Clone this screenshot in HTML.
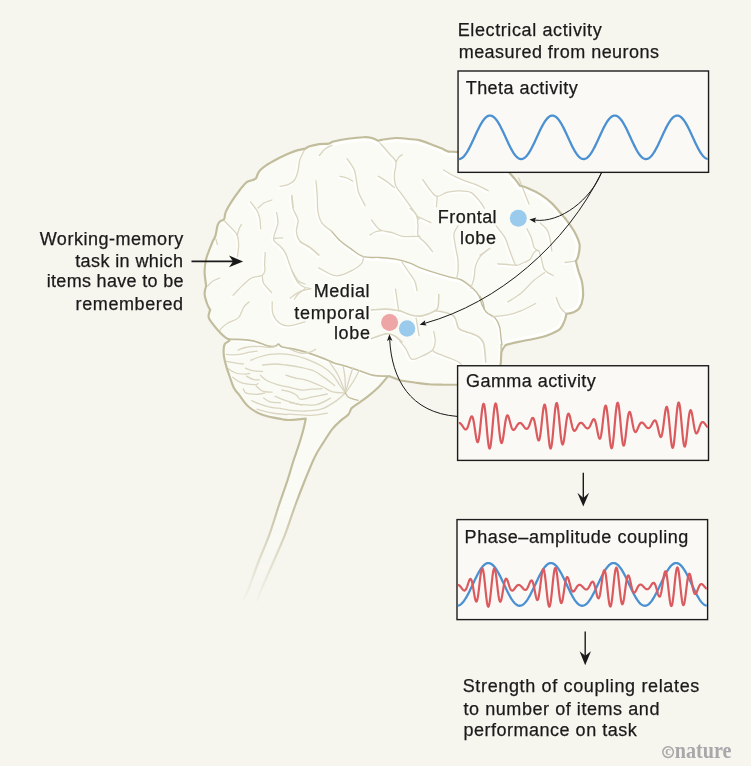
<!DOCTYPE html>
<html><head><meta charset="utf-8"><style>
html,body{margin:0;padding:0;background:#f6f5ee;}
#c{position:relative;width:751px;height:766px;overflow:hidden;background:#f6f5ee;}
svg{position:absolute;left:0;top:0;will-change:transform;}
text{font-family:"Liberation Sans",sans-serif;fill:#1a1a1a;font-size:18px;stroke:#1a1a1a;stroke-width:0.25px;}
</style></head><body><div id="c">
<svg width="751" height="766" viewBox="0 0 751 766">
<defs><linearGradient id="fade" x1="0" y1="0" x2="0" y2="1" gradientUnits="objectBoundingBox"><stop offset="0" stop-color="#fff"/><stop offset="1" stop-color="#fff"/></linearGradient><linearGradient id="fg" gradientUnits="userSpaceOnUse" x1="0" y1="495" x2="0" y2="603"><stop offset="0" stop-color="#fff" stop-opacity="1"/><stop offset="1" stop-color="#fff" stop-opacity="0"/></linearGradient><mask id="m" maskUnits="userSpaceOnUse" x="0" y="0" width="751" height="766"><rect x="0" y="0" width="751" height="495" fill="#fff"/><rect x="0" y="495" width="751" height="271" fill="url(#fg)"/></mask></defs>
<g mask="url(#m)">
<clipPath id="cp"><path d="M226.30,338.20 C226.30,338.20 222.03,334.62 219.90,332.40 C217.77,330.18 215.37,327.38 213.50,324.90 C211.63,322.42 209.35,319.73 208.70,317.50 C208.05,315.27 209.35,312.77 209.60,311.50 C209.85,310.23 210.20,309.90 210.20,309.90 C210.20,309.90 207.93,306.17 207.00,303.50 C206.07,300.83 204.73,296.83 204.60,293.90 C204.47,290.97 206.20,285.90 206.20,285.90 C206.20,285.90 204.60,276.02 204.60,271.50 C204.60,266.98 205.33,262.60 206.20,258.80 C207.07,255.00 208.67,251.72 209.80,248.70 C210.93,245.68 212.07,242.83 213.00,240.70 C213.93,238.57 214.60,238.57 215.40,235.90 C216.20,233.23 216.87,227.23 217.80,224.70 C218.73,222.17 221.00,220.70 221.00,220.70 C221.00,220.70 223.40,220.57 224.20,219.10 C225.00,217.63 224.47,214.97 225.80,211.90 C227.13,208.83 229.80,204.43 232.20,200.70 C234.60,196.97 237.82,192.57 240.20,189.50 C242.58,186.43 244.38,183.88 246.50,182.30 C248.62,180.72 251.30,180.65 252.90,180.00 C254.50,179.35 256.10,178.40 256.10,178.40 C256.10,178.40 257.70,173.33 259.30,171.20 C260.90,169.07 263.03,167.47 265.70,165.60 C268.37,163.73 271.57,161.97 275.30,160.00 C279.03,158.03 284.48,155.40 288.10,153.80 C291.72,152.20 294.15,151.27 297.00,150.40 C299.85,149.53 305.20,148.60 305.20,148.60 C305.20,148.60 307.27,147.05 309.60,146.30 C311.93,145.55 316.00,144.55 319.20,144.10 C322.40,143.65 326.40,144.03 328.80,143.60 C331.20,143.17 330.42,142.30 333.60,141.50 C336.78,140.70 342.85,139.52 347.90,138.80 C352.95,138.08 359.90,137.33 363.90,137.20 C367.90,137.07 369.50,137.38 371.90,138.00 C374.30,138.62 378.30,140.90 378.30,140.90 C378.30,140.90 378.57,140.38 381.50,139.90 C384.43,139.42 390.83,138.10 395.90,138.00 C400.97,137.90 407.88,138.90 411.90,139.30 C415.92,139.70 416.55,139.47 420.00,140.40 C423.45,141.33 428.95,143.53 432.60,144.90 C436.25,146.27 439.25,147.48 441.90,148.60 C444.55,149.72 446.17,151.05 448.50,151.60 C450.83,152.15 451.48,151.33 455.90,151.90 C460.32,152.47 468.48,153.15 475.00,155.00 C481.52,156.85 489.23,160.00 495.00,163.00 C500.77,166.00 509.60,173.00 509.60,173.00 C509.60,173.00 513.47,177.27 515.20,179.40 C516.93,181.53 520.00,185.80 520.00,185.80 C520.00,185.80 524.55,186.73 528.00,188.20 C531.45,189.67 536.72,192.07 540.70,194.60 C544.68,197.13 548.17,199.82 551.90,203.40 C555.63,206.98 560.68,213.33 563.10,216.10 C565.52,218.87 564.38,217.15 566.40,220.00 C568.42,222.85 573.00,229.05 575.20,233.20 C577.40,237.35 579.12,241.00 579.60,244.90 C580.08,248.80 578.72,253.92 578.10,256.60 C577.48,259.28 575.90,261.00 575.90,261.00 C575.90,261.00 577.45,267.63 578.50,271.30 C579.55,274.97 581.47,278.62 582.20,283.00 C582.93,287.38 583.33,293.45 582.90,297.60 C582.47,301.75 581.13,305.45 579.60,307.90 C578.07,310.35 575.90,311.33 573.70,312.30 C571.50,313.27 566.40,313.70 566.40,313.70 C566.40,313.70 566.08,317.03 565.00,319.60 C563.92,322.17 562.88,326.45 559.90,329.10 C556.92,331.75 551.37,333.90 547.10,335.50 C542.83,337.10 539.08,337.63 534.30,338.70 C529.52,339.77 523.18,340.83 518.40,341.90 C513.62,342.97 505.60,345.10 505.60,345.10 C505.60,345.10 502.35,348.68 501.50,352.00 C500.65,355.32 501.42,360.83 500.50,365.00 C499.58,369.17 499.42,373.75 496.00,377.00 C492.58,380.25 486.48,383.22 480.00,384.50 C473.52,385.78 463.12,384.67 457.10,384.70 C451.08,384.73 448.53,384.77 443.90,384.70 C439.27,384.63 434.18,384.67 429.30,384.30 C424.42,383.93 419.48,383.17 414.60,382.50 C409.72,381.83 404.07,381.30 400.00,380.30 C395.93,379.30 392.30,377.08 390.20,376.50 C388.10,375.92 387.40,376.80 387.40,376.80 C387.40,376.80 381.20,384.50 377.90,387.80 C374.60,391.10 371.02,393.92 367.60,396.60 C364.18,399.28 360.08,401.95 357.40,403.90 C354.72,405.85 352.97,406.58 351.50,408.30 C350.03,410.02 350.30,412.23 348.60,414.20 C346.90,416.17 343.98,417.67 341.30,420.10 C338.62,422.53 335.43,425.15 332.50,428.80 C329.57,432.45 326.63,437.35 323.70,442.00 C320.77,446.65 318.02,450.37 314.90,456.70 C311.78,463.03 308.32,471.78 305.00,480.00 C301.68,488.22 298.35,496.85 295.00,506.00 C291.65,515.15 288.73,525.07 284.90,534.90 C281.07,544.73 275.97,555.87 272.00,565.00 C268.03,574.13 263.77,583.53 261.10,589.70 C258.43,595.87 259.02,599.95 256.00,602.00 C252.98,604.05 244.28,604.05 243.00,602.00 C241.72,599.95 245.80,596.20 248.30,589.70 C250.80,583.20 254.50,572.13 258.00,563.00 C261.50,553.87 265.80,544.57 269.30,534.90 C272.80,525.23 275.95,514.15 279.00,505.00 C282.05,495.85 285.28,487.08 287.60,480.00 C289.92,472.92 291.03,468.33 292.90,462.50 C294.77,456.67 297.08,450.37 298.80,445.00 C300.52,439.63 302.03,434.70 303.20,430.30 C304.37,425.90 305.80,418.60 305.80,418.60 C305.80,418.60 293.95,419.90 290.00,420.00 C286.05,420.10 286.60,420.02 282.10,419.20 C277.60,418.38 268.58,417.18 263.00,415.10 C257.42,413.02 252.60,410.10 248.60,406.70 C244.60,403.30 241.47,397.87 239.00,394.70 C236.53,391.53 235.38,390.82 233.80,387.70 C232.22,384.58 230.75,379.55 229.50,376.00 C228.25,372.45 227.18,369.42 226.30,366.40 C225.42,363.38 224.65,360.55 224.20,357.90 C223.75,355.25 223.52,352.80 223.60,350.50 C223.68,348.20 223.72,345.78 224.70,344.10 C225.68,342.42 229.23,341.38 229.50,340.40 C229.77,339.42 226.30,338.20 226.30,338.20 Z"/></clipPath>
<path d="M226.30,338.20 C226.30,338.20 222.03,334.62 219.90,332.40 C217.77,330.18 215.37,327.38 213.50,324.90 C211.63,322.42 209.35,319.73 208.70,317.50 C208.05,315.27 209.35,312.77 209.60,311.50 C209.85,310.23 210.20,309.90 210.20,309.90 C210.20,309.90 207.93,306.17 207.00,303.50 C206.07,300.83 204.73,296.83 204.60,293.90 C204.47,290.97 206.20,285.90 206.20,285.90 C206.20,285.90 204.60,276.02 204.60,271.50 C204.60,266.98 205.33,262.60 206.20,258.80 C207.07,255.00 208.67,251.72 209.80,248.70 C210.93,245.68 212.07,242.83 213.00,240.70 C213.93,238.57 214.60,238.57 215.40,235.90 C216.20,233.23 216.87,227.23 217.80,224.70 C218.73,222.17 221.00,220.70 221.00,220.70 C221.00,220.70 223.40,220.57 224.20,219.10 C225.00,217.63 224.47,214.97 225.80,211.90 C227.13,208.83 229.80,204.43 232.20,200.70 C234.60,196.97 237.82,192.57 240.20,189.50 C242.58,186.43 244.38,183.88 246.50,182.30 C248.62,180.72 251.30,180.65 252.90,180.00 C254.50,179.35 256.10,178.40 256.10,178.40 C256.10,178.40 257.70,173.33 259.30,171.20 C260.90,169.07 263.03,167.47 265.70,165.60 C268.37,163.73 271.57,161.97 275.30,160.00 C279.03,158.03 284.48,155.40 288.10,153.80 C291.72,152.20 294.15,151.27 297.00,150.40 C299.85,149.53 305.20,148.60 305.20,148.60 C305.20,148.60 307.27,147.05 309.60,146.30 C311.93,145.55 316.00,144.55 319.20,144.10 C322.40,143.65 326.40,144.03 328.80,143.60 C331.20,143.17 330.42,142.30 333.60,141.50 C336.78,140.70 342.85,139.52 347.90,138.80 C352.95,138.08 359.90,137.33 363.90,137.20 C367.90,137.07 369.50,137.38 371.90,138.00 C374.30,138.62 378.30,140.90 378.30,140.90 C378.30,140.90 378.57,140.38 381.50,139.90 C384.43,139.42 390.83,138.10 395.90,138.00 C400.97,137.90 407.88,138.90 411.90,139.30 C415.92,139.70 416.55,139.47 420.00,140.40 C423.45,141.33 428.95,143.53 432.60,144.90 C436.25,146.27 439.25,147.48 441.90,148.60 C444.55,149.72 446.17,151.05 448.50,151.60 C450.83,152.15 451.48,151.33 455.90,151.90 C460.32,152.47 468.48,153.15 475.00,155.00 C481.52,156.85 489.23,160.00 495.00,163.00 C500.77,166.00 509.60,173.00 509.60,173.00 C509.60,173.00 513.47,177.27 515.20,179.40 C516.93,181.53 520.00,185.80 520.00,185.80 C520.00,185.80 524.55,186.73 528.00,188.20 C531.45,189.67 536.72,192.07 540.70,194.60 C544.68,197.13 548.17,199.82 551.90,203.40 C555.63,206.98 560.68,213.33 563.10,216.10 C565.52,218.87 564.38,217.15 566.40,220.00 C568.42,222.85 573.00,229.05 575.20,233.20 C577.40,237.35 579.12,241.00 579.60,244.90 C580.08,248.80 578.72,253.92 578.10,256.60 C577.48,259.28 575.90,261.00 575.90,261.00 C575.90,261.00 577.45,267.63 578.50,271.30 C579.55,274.97 581.47,278.62 582.20,283.00 C582.93,287.38 583.33,293.45 582.90,297.60 C582.47,301.75 581.13,305.45 579.60,307.90 C578.07,310.35 575.90,311.33 573.70,312.30 C571.50,313.27 566.40,313.70 566.40,313.70 C566.40,313.70 566.08,317.03 565.00,319.60 C563.92,322.17 562.88,326.45 559.90,329.10 C556.92,331.75 551.37,333.90 547.10,335.50 C542.83,337.10 539.08,337.63 534.30,338.70 C529.52,339.77 523.18,340.83 518.40,341.90 C513.62,342.97 505.60,345.10 505.60,345.10 C505.60,345.10 502.35,348.68 501.50,352.00 C500.65,355.32 501.42,360.83 500.50,365.00 C499.58,369.17 499.42,373.75 496.00,377.00 C492.58,380.25 486.48,383.22 480.00,384.50 C473.52,385.78 463.12,384.67 457.10,384.70 C451.08,384.73 448.53,384.77 443.90,384.70 C439.27,384.63 434.18,384.67 429.30,384.30 C424.42,383.93 419.48,383.17 414.60,382.50 C409.72,381.83 404.07,381.30 400.00,380.30 C395.93,379.30 392.30,377.08 390.20,376.50 C388.10,375.92 387.40,376.80 387.40,376.80 C387.40,376.80 381.20,384.50 377.90,387.80 C374.60,391.10 371.02,393.92 367.60,396.60 C364.18,399.28 360.08,401.95 357.40,403.90 C354.72,405.85 352.97,406.58 351.50,408.30 C350.03,410.02 350.30,412.23 348.60,414.20 C346.90,416.17 343.98,417.67 341.30,420.10 C338.62,422.53 335.43,425.15 332.50,428.80 C329.57,432.45 326.63,437.35 323.70,442.00 C320.77,446.65 318.02,450.37 314.90,456.70 C311.78,463.03 308.32,471.78 305.00,480.00 C301.68,488.22 298.35,496.85 295.00,506.00 C291.65,515.15 288.73,525.07 284.90,534.90 C281.07,544.73 275.97,555.87 272.00,565.00 C268.03,574.13 263.77,583.53 261.10,589.70 C258.43,595.87 259.02,599.95 256.00,602.00 C252.98,604.05 244.28,604.05 243.00,602.00 C241.72,599.95 245.80,596.20 248.30,589.70 C250.80,583.20 254.50,572.13 258.00,563.00 C261.50,553.87 265.80,544.57 269.30,534.90 C272.80,525.23 275.95,514.15 279.00,505.00 C282.05,495.85 285.28,487.08 287.60,480.00 C289.92,472.92 291.03,468.33 292.90,462.50 C294.77,456.67 297.08,450.37 298.80,445.00 C300.52,439.63 302.03,434.70 303.20,430.30 C304.37,425.90 305.80,418.60 305.80,418.60 C305.80,418.60 293.95,419.90 290.00,420.00 C286.05,420.10 286.60,420.02 282.10,419.20 C277.60,418.38 268.58,417.18 263.00,415.10 C257.42,413.02 252.60,410.10 248.60,406.70 C244.60,403.30 241.47,397.87 239.00,394.70 C236.53,391.53 235.38,390.82 233.80,387.70 C232.22,384.58 230.75,379.55 229.50,376.00 C228.25,372.45 227.18,369.42 226.30,366.40 C225.42,363.38 224.65,360.55 224.20,357.90 C223.75,355.25 223.52,352.80 223.60,350.50 C223.68,348.20 223.72,345.78 224.70,344.10 C225.68,342.42 229.23,341.38 229.50,340.40 C229.77,339.42 226.30,338.20 226.30,338.20 Z" fill="#fbfbf6" stroke="none"/>
<g clip-path="url(#cp)"><path d="M319.20,144.10 C320.80,144.02 326.40,144.03 328.80,143.60 C331.20,143.17 330.42,142.30 333.60,141.50 C336.78,140.70 342.85,139.52 347.90,138.80 C352.95,138.08 359.90,137.33 363.90,137.20 C367.90,137.07 369.50,137.38 371.90,138.00 C374.30,138.62 378.30,140.90 378.30,140.90 C378.30,140.90 378.57,140.38 381.50,139.90 C384.43,139.42 390.83,138.10 395.90,138.00 C400.97,137.90 407.88,138.90 411.90,139.30 C415.92,139.70 416.55,139.47 420.00,140.40 C423.45,141.33 428.95,143.53 432.60,144.90 C436.25,146.27 439.25,147.48 441.90,148.60 C444.55,149.72 446.17,151.05 448.50,151.60 C450.83,152.15 451.48,151.33 455.90,151.90 C460.32,152.47 468.48,153.15 475.00,155.00 C481.52,156.85 489.23,160.00 495.00,163.00 C500.77,166.00 509.60,173.00 509.60,173.00 C509.60,173.00 513.47,177.27 515.20,179.40 C516.93,181.53 520.00,185.80 520.00,185.80 C520.00,185.80 524.55,186.73 528.00,188.20 C531.45,189.67 536.72,192.07 540.70,194.60 C544.68,197.13 548.17,199.82 551.90,203.40 C555.63,206.98 560.68,213.33 563.10,216.10 C565.52,218.87 564.38,217.15 566.40,220.00 C568.42,222.85 573.00,229.05 575.20,233.20 C577.40,237.35 579.12,241.00 579.60,244.90 C580.08,248.80 578.72,253.92 578.10,256.60 C577.48,259.28 575.90,261.00 575.90,261.00 C575.90,261.00 577.45,267.63 578.50,271.30 C579.55,274.97 581.47,278.62 582.20,283.00 C582.93,287.38 583.33,293.45 582.90,297.60 C582.47,301.75 581.13,305.45 579.60,307.90 C578.07,310.35 575.90,311.33 573.70,312.30 C571.50,313.27 566.40,313.70 566.40,313.70 C566.40,313.70 566.08,317.03 565.00,319.60 C563.92,322.17 562.88,326.45 559.90,329.10 C556.92,331.75 551.37,333.90 547.10,335.50 C542.83,337.10 539.08,337.63 534.30,338.70 C529.52,339.77 523.18,340.83 518.40,341.90 C513.62,342.97 505.60,345.10 505.60,345.10" fill="none" stroke="#ffffff" stroke-width="8" stroke-linejoin="round" opacity="0.9"/></g>
<path d="M331.50,231.10 C332.85,232.62 336.40,237.27 339.60,240.20 C342.80,243.13 346.72,245.95 350.70,248.70 C354.68,251.45 358.70,255.23 363.50,256.70 C368.30,258.17 374.17,257.10 379.50,257.50 C384.83,257.90 390.42,258.17 395.50,259.10 C400.58,260.03 406.27,261.82 410.00,263.10 C413.73,264.38 413.92,265.27 417.90,266.80 C421.88,268.33 428.55,270.58 433.90,272.30 C439.25,274.02 445.40,275.82 450.00,277.10 C454.60,278.38 457.63,278.05 461.50,280.00 C465.37,281.95 470.27,286.12 473.20,288.80 C476.13,291.48 477.63,293.42 479.10,296.10 C480.57,298.78 480.78,302.22 482.00,304.90 C483.22,307.58 484.20,310.00 486.40,312.20 C488.60,314.40 493.00,315.65 495.20,318.10 C497.40,320.55 498.62,323.48 499.60,326.90 C500.58,330.32 500.70,335.58 501.10,338.60 C501.50,341.62 501.85,343.93 502.00,345.00" transform="translate(0.6,2.4)" fill="none" stroke="#ffffff" stroke-width="2.6" stroke-linecap="round"/>
<g clip-path="url(#cp)" transform="translate(-1.3,1.3)" fill="none" stroke="#ffffff" stroke-width="2.2" stroke-linecap="round" stroke-linejoin="round" opacity="0.9">
<path d="M226.30,338.20 C226.30,338.20 228.93,339.07 231.60,339.30 C234.27,339.53 238.75,339.33 242.30,339.60 C245.85,339.87 249.72,340.25 252.90,340.90 C256.08,341.55 258.73,342.62 261.40,343.50 C264.07,344.38 266.58,345.75 268.90,346.20 C271.22,346.65 273.70,346.55 275.30,346.20 C276.90,345.85 277.32,343.97 278.50,344.10 C279.68,344.23 279.27,346.05 282.40,347.00 C285.53,347.95 292.65,348.70 297.30,349.80 C301.95,350.90 305.65,352.05 310.30,353.60 C314.95,355.15 321.25,357.53 325.20,359.10 C329.15,360.67 330.70,361.85 334.00,363.00 C337.30,364.15 340.62,364.67 345.00,366.00 C349.38,367.33 355.55,369.43 360.30,371.00 C365.05,372.57 369.10,374.55 373.50,375.40 C377.90,376.25 383.92,375.92 386.70,376.10 C389.48,376.28 389.62,376.43 390.20,376.50"/>
<path d="M331.50,231.10 C332.85,232.62 336.40,237.27 339.60,240.20 C342.80,243.13 346.72,245.95 350.70,248.70 C354.68,251.45 358.70,255.23 363.50,256.70 C368.30,258.17 374.17,257.10 379.50,257.50 C384.83,257.90 390.42,258.17 395.50,259.10 C400.58,260.03 406.27,261.82 410.00,263.10 C413.73,264.38 413.92,265.27 417.90,266.80 C421.88,268.33 428.55,270.58 433.90,272.30 C439.25,274.02 445.40,275.82 450.00,277.10 C454.60,278.38 457.63,278.05 461.50,280.00 C465.37,281.95 470.27,286.12 473.20,288.80 C476.13,291.48 477.63,293.42 479.10,296.10 C480.57,298.78 480.78,302.22 482.00,304.90 C483.22,307.58 484.20,310.00 486.40,312.20 C488.60,314.40 493.00,315.65 495.20,318.10 C497.40,320.55 498.62,323.48 499.60,326.90 C500.58,330.32 500.70,335.58 501.10,338.60 C501.50,341.62 501.85,343.93 502.00,345.00"/>
<path d="M316.00,181.00 C316.20,183.50 316.87,190.83 317.20,196.00 C317.53,201.17 317.20,207.48 318.00,212.00 C318.80,216.52 319.75,219.92 322.00,223.10 C324.25,226.28 329.92,229.77 331.50,231.10"/>
<path d="M501.10,344.50 C501.10,346.45 501.23,352.62 501.10,356.20 C500.97,359.78 500.43,364.37 500.30,366.00"/>
<path d="M480.00,296.20 C480.48,297.17 482.17,299.80 482.90,302.00 C483.63,304.20 484.15,308.17 484.40,309.40"/>
<path d="M319.20,155.60 C320.17,154.50 322.87,150.73 325.00,149.00 C327.13,147.27 330.83,145.83 332.00,145.20"/>
<path d="M347.10,158.80 C348.30,160.67 352.70,166.02 354.30,170.00 C355.90,173.98 355.97,178.90 356.70,182.70 C357.43,186.50 357.30,188.98 358.70,192.80 C360.10,196.62 364.03,203.47 365.10,205.60"/>
<path d="M340.00,176.30 C341.17,176.58 344.88,177.20 347.00,178.00 C349.12,178.80 351.75,180.58 352.70,181.10"/>
<path d="M379.90,142.80 C381.50,144.67 386.83,150.80 389.50,154.00 C392.17,157.20 395.10,158.55 395.90,162.00 C396.70,165.45 394.30,170.72 394.30,174.70 C394.30,178.68 394.30,182.17 395.90,185.90 C397.50,189.63 400.70,192.57 403.90,197.10 C407.10,201.63 412.58,209.37 415.10,213.10 C417.62,216.83 418.35,218.43 419.00,219.50"/>
<path d="M395.90,162.00 C396.42,161.17 397.93,158.20 399.00,157.00 C400.07,155.80 401.75,155.17 402.30,154.80"/>
<path d="M378.30,176.30 C379.58,177.08 383.33,179.13 386.00,181.00 C388.67,182.87 392.92,186.42 394.30,187.50"/>
<path d="M371.50,220.00 C372.83,221.58 376.03,227.38 379.50,229.50 C382.97,231.62 388.50,231.57 392.30,232.70 C396.10,233.83 397.68,235.70 402.30,236.30 C406.92,236.90 417.05,236.30 420.00,236.30"/>
<path d="M369.90,235.10 C370.75,234.58 373.07,232.73 375.00,232.00 C376.93,231.27 380.42,230.92 381.50,230.70"/>
<path d="M300.00,241.90 C301.87,242.95 308.07,246.00 311.20,248.20 C314.33,250.40 317.53,253.95 318.80,255.10"/>
<path d="M443.60,170.00 C445.45,171.07 450.98,174.53 454.70,176.40 C458.42,178.27 462.17,179.73 465.90,181.20 C469.63,182.67 473.37,183.60 477.10,185.20 C480.83,186.80 486.43,189.87 488.30,190.80"/>
<path d="M422.80,179.60 C424.13,181.47 428.40,188.00 430.80,190.80 C433.20,193.60 434.53,196.13 437.20,196.40 C439.87,196.67 443.35,193.33 446.80,192.40 C450.25,191.47 453.92,190.80 457.90,190.80 C461.88,190.80 466.97,190.53 470.70,192.40 C474.43,194.27 478.03,199.33 480.30,202.00 C482.57,204.67 483.63,207.33 484.30,208.40"/>
<path d="M437.20,196.40 C437.07,198.13 436.53,205.07 436.40,206.80"/>
<path d="M410.00,208.40 C411.07,209.45 415.07,211.78 416.40,214.70 C417.73,217.62 417.73,222.43 418.00,225.90 C418.27,229.37 416.67,232.57 418.00,235.50 C419.33,238.43 423.60,240.83 426.00,243.50 C428.40,246.17 431.33,250.17 432.40,251.50"/>
<path d="M416.40,216.00 C417.50,216.50 420.60,217.88 423.00,219.00 C425.40,220.12 429.50,222.08 430.80,222.70"/>
<path d="M457.90,225.90 C457.23,227.23 454.30,230.43 453.90,233.90 C453.50,237.37 454.83,242.43 455.50,246.70 C456.17,250.97 457.50,255.23 457.90,259.50 C458.30,263.77 458.17,269.10 457.90,272.30 C457.63,275.50 456.57,277.63 456.30,278.70"/>
<path d="M489.90,248.30 C488.30,249.63 482.70,253.37 480.30,256.30 C477.90,259.23 476.57,262.17 475.50,265.90 C474.43,269.63 474.70,274.98 473.90,278.70 C473.10,282.42 471.23,286.62 470.70,288.20"/>
<path d="M496.10,225.90 C497.57,227.85 502.70,233.70 504.90,237.60 C507.10,241.50 507.83,245.40 509.30,249.30 C510.77,253.20 512.48,258.32 513.70,261.00 C514.92,263.68 514.90,265.15 516.60,265.40 C518.30,265.65 521.70,263.48 523.90,262.50 C526.10,261.52 528.08,261.22 529.80,259.50 C531.52,257.78 532.73,253.65 534.20,252.20 C535.67,250.75 537.38,249.58 538.60,250.80 C539.82,252.02 540.52,256.33 541.50,259.50 C542.48,262.67 542.55,267.10 544.50,269.80 C546.45,272.50 551.75,274.72 553.20,275.70"/>
<path d="M497.60,263.90 C499.17,264.00 503.83,264.25 507.00,264.50 C510.17,264.75 515.00,265.25 516.60,265.40"/>
<path d="M526.90,228.80 C527.63,230.27 530.08,234.43 531.30,237.60 C532.52,240.77 532.98,245.60 534.20,247.80 C535.42,250.00 537.87,250.30 538.60,250.80"/>
<path d="M540.10,222.90 C541.32,224.13 545.70,227.37 547.40,230.30 C549.10,233.23 549.57,237.08 550.30,240.50 C551.03,243.92 551.55,249.08 551.80,250.80"/>
<path d="M544.50,272.70 C542.53,274.17 536.62,278.08 532.70,281.50 C528.78,284.92 525.15,289.78 521.00,293.20 C516.85,296.62 510.00,300.53 507.80,302.00"/>
<path d="M535.70,303.50 C533.25,304.72 525.88,308.85 521.00,310.80 C516.12,312.75 511.28,314.22 506.40,315.20 C501.52,316.18 494.15,316.45 491.70,316.70"/>
<path d="M556.20,297.60 C556.93,299.32 558.90,305.22 560.60,307.90 C562.30,310.58 566.40,313.70 566.40,313.70"/>
<path d="M565.00,262.50 C566.82,262.25 575.90,261.00 575.90,261.00"/>
<path d="M480.00,255.20 C481.47,254.22 487.33,250.28 488.80,249.30"/>
<path d="M518.70,178.00 C519.75,180.67 523.28,189.67 525.00,194.00 C526.72,198.33 528.33,202.33 529.00,204.00"/>
<path d="M400.00,310.80 C401.95,311.53 408.03,314.35 411.70,315.20 C415.37,316.05 418.08,316.63 422.00,315.90 C425.92,315.17 432.52,312.38 435.20,310.80 C437.88,309.22 437.50,309.10 438.10,306.40 C438.70,303.70 438.68,296.57 438.80,294.60"/>
<path d="M435.20,310.80 C436.65,311.03 440.98,311.47 443.90,312.20 C446.82,312.93 450.73,313.98 452.70,315.20 C454.67,316.42 454.72,317.32 455.70,319.50 C456.68,321.68 457.13,326.33 458.60,328.30 C460.07,330.27 462.07,330.32 464.50,331.30 C466.93,332.28 470.77,333.23 473.20,334.20 C475.63,335.17 477.38,335.63 479.10,337.10 C480.82,338.57 482.52,340.32 483.50,343.00 C484.48,345.68 484.63,350.03 485.00,353.20 C485.37,356.37 485.58,360.53 485.70,362.00"/>
<path d="M416.10,318.10 C416.35,319.57 417.12,323.97 417.60,326.90 C418.08,329.83 418.77,334.23 419.00,335.70"/>
<path d="M400.00,341.50 C400.98,342.72 403.95,345.87 405.90,348.80 C407.85,351.73 409.02,357.87 411.70,359.10 C414.38,360.33 418.58,357.67 422.00,356.20 C425.42,354.73 430.00,352.75 432.20,350.30 C434.40,347.85 434.95,344.67 435.20,341.50 C435.45,338.33 433.95,333.00 433.70,331.30"/>
<path d="M432.20,350.30 C432.93,350.78 433.92,351.98 436.60,353.20 C439.28,354.42 444.63,356.13 448.30,357.60 C451.97,359.07 456.40,360.77 458.60,362.00 C460.80,363.23 461.02,364.50 461.50,365.00"/>
<path d="M371.50,309.90 C373.90,309.77 381.37,308.97 385.90,309.10 C390.43,309.23 396.35,310.42 398.70,310.70 C401.05,310.98 399.78,310.78 400.00,310.80"/>
<path d="M395.50,289.10 C395.75,290.92 396.47,296.40 397.00,300.00 C397.53,303.60 398.42,308.92 398.70,310.70"/>
<path d="M371.50,338.70 C373.90,337.90 382.17,334.43 385.90,333.90 C389.63,333.37 391.23,334.17 393.90,335.50 C396.57,336.83 400.57,340.83 401.90,341.90"/>
<path d="M401.90,262.00 C402.97,263.58 406.17,268.32 408.30,271.50 C410.43,274.68 413.23,277.90 414.70,281.10 C416.17,284.30 416.70,289.10 417.10,290.70"/>
<path d="M363.50,256.70 C363.23,257.77 363.50,260.97 361.90,263.10 C360.30,265.23 358.17,267.37 353.90,269.50 C349.63,271.63 342.15,276.17 336.30,275.90 C330.45,275.63 321.72,269.23 318.80,267.90"/>
<path d="M291.60,196.00 C291.87,198.13 292.13,204.80 293.20,208.80 C294.27,212.80 297.47,216.28 298.00,220.00 C298.53,223.72 296.13,227.65 296.40,231.10 C296.67,234.55 297.47,238.03 299.60,240.70 C301.73,243.37 306.00,244.70 309.20,247.10 C312.40,249.50 317.20,253.77 318.80,255.10"/>
<path d="M310.80,288.70 C308.93,289.23 303.07,290.32 299.60,291.90 C296.13,293.48 291.60,297.15 290.00,298.20"/>
<path d="M250.60,202.00 C251.72,203.55 255.75,208.42 257.30,211.30 C258.85,214.18 259.35,216.42 259.90,219.30 C260.45,222.18 260.48,227.05 260.60,228.60"/>
<path d="M258.00,208.00 C259.00,207.17 261.68,204.33 264.00,203.00 C266.32,201.67 270.58,200.50 271.90,200.00"/>
<path d="M224.00,220.60 C225.33,221.93 229.78,226.15 232.00,228.60 C234.22,231.05 236.20,232.42 237.30,235.30 C238.40,238.18 238.60,242.35 238.60,245.90 C238.60,249.45 237.52,254.82 237.30,256.60"/>
<path d="M237.30,235.30 C237.58,234.25 238.33,230.78 239.00,229.00 C239.67,227.22 240.92,225.33 241.30,224.60"/>
<path d="M276.60,212.60 C276.82,214.38 278.23,219.75 277.90,223.30 C277.57,226.85 275.27,231.02 274.60,233.90 C273.93,236.78 273.02,238.60 273.90,240.60 C274.78,242.60 278.02,243.90 279.90,245.90 C281.78,247.90 283.65,249.72 285.20,252.60 C286.75,255.48 287.87,259.65 289.20,263.20 C290.53,266.75 291.65,270.57 293.20,273.90 C294.75,277.23 296.70,281.02 298.50,283.20 C300.30,285.38 301.95,286.08 304.00,287.00 C306.05,287.92 309.67,288.42 310.80,288.70"/>
<path d="M274.50,238.50 C275.85,238.40 281.25,238.00 282.60,237.90"/>
<path d="M291.90,195.30 C292.12,197.30 292.98,205.30 293.20,207.30"/>
<path d="M265.20,252.60 C265.10,254.60 264.65,261.70 264.60,264.60 C264.55,267.50 265.28,268.22 264.90,270.00 C264.52,271.78 264.52,273.97 262.30,275.30 C260.08,276.63 254.72,276.45 251.60,278.00 C248.48,279.55 246.70,281.72 243.60,284.60 C240.50,287.48 234.77,293.52 233.00,295.30"/>
<path d="M262.30,275.30 C262.52,276.63 262.05,280.42 263.60,283.30 C265.15,286.18 270.27,291.05 271.60,292.60"/>
<path d="M216.00,239.30 C216.22,240.18 217.08,243.72 217.30,244.60"/>
<path d="M207.70,286.00 C208.58,285.17 211.02,282.33 213.00,281.00 C214.98,279.67 218.50,278.50 219.60,278.00"/>
<path d="M249.00,302.00 C248.10,302.88 245.38,304.65 243.60,307.30 C241.82,309.95 240.97,315.23 238.30,317.90 C235.63,320.57 230.48,321.52 227.60,323.30 C224.72,325.08 222.33,327.05 221.00,328.60 C219.67,330.15 219.83,331.93 219.60,332.60"/>
<path d="M272.20,302.00 C272.32,303.98 271.67,310.35 272.90,313.90 C274.13,317.45 276.93,321.30 279.60,323.30 C282.27,325.30 284.67,326.13 288.90,325.90 C293.13,325.67 302.32,322.57 305.00,321.90"/>
<path d="M291.60,270.00 C292.70,271.78 295.97,278.37 298.20,280.70 C300.43,283.03 303.87,283.45 305.00,284.00"/>
<path d="M294.20,299.30 C294.87,298.42 296.40,295.78 298.20,294.00 C300.00,292.22 303.87,289.50 305.00,288.60"/>
<path d="M304.50,149.60 C303.83,151.00 301.37,155.93 300.50,158.00 C299.63,160.07 299.77,159.67 299.30,162.00 C298.83,164.33 298.50,169.00 297.70,172.00 C296.90,175.00 296.10,177.88 294.50,180.00 C292.90,182.12 290.50,183.65 288.10,184.70 C285.70,185.75 281.43,186.03 280.10,186.30"/>
<path d="M226.30,354.40 C227.72,354.48 231.97,355.00 234.80,354.90 C237.63,354.80 240.82,354.25 243.30,353.80 C245.78,353.35 247.40,352.63 249.70,352.20 C252.00,351.77 255.87,351.37 257.10,351.20"/>
</g>
<path d="M226.30,338.20 C226.30,338.20 228.93,339.07 231.60,339.30 C234.27,339.53 238.75,339.33 242.30,339.60 C245.85,339.87 249.72,340.25 252.90,340.90 C256.08,341.55 258.73,342.62 261.40,343.50 C264.07,344.38 266.58,345.75 268.90,346.20 C271.22,346.65 273.70,346.55 275.30,346.20 C276.90,345.85 277.32,343.97 278.50,344.10 C279.68,344.23 279.27,346.05 282.40,347.00 C285.53,347.95 292.65,348.70 297.30,349.80 C301.95,350.90 305.65,352.05 310.30,353.60 C314.95,355.15 321.25,357.53 325.20,359.10 C329.15,360.67 330.70,361.85 334.00,363.00 C337.30,364.15 340.62,364.67 345.00,366.00 C349.38,367.33 355.55,369.43 360.30,371.00 C365.05,372.57 369.10,374.55 373.50,375.40 C377.90,376.25 383.92,375.92 386.70,376.10 C389.48,376.28 389.62,376.43 390.20,376.50" fill="none" stroke="#c1bd9c" stroke-width="1.7" stroke-linecap="round" stroke-linejoin="round"/>
<path d="M331.50,231.10 C332.85,232.62 336.40,237.27 339.60,240.20 C342.80,243.13 346.72,245.95 350.70,248.70 C354.68,251.45 358.70,255.23 363.50,256.70 C368.30,258.17 374.17,257.10 379.50,257.50 C384.83,257.90 390.42,258.17 395.50,259.10 C400.58,260.03 406.27,261.82 410.00,263.10 C413.73,264.38 413.92,265.27 417.90,266.80 C421.88,268.33 428.55,270.58 433.90,272.30 C439.25,274.02 445.40,275.82 450.00,277.10 C454.60,278.38 457.63,278.05 461.50,280.00 C465.37,281.95 470.27,286.12 473.20,288.80 C476.13,291.48 477.63,293.42 479.10,296.10 C480.57,298.78 480.78,302.22 482.00,304.90 C483.22,307.58 484.20,310.00 486.40,312.20 C488.60,314.40 493.00,315.65 495.20,318.10 C497.40,320.55 498.62,323.48 499.60,326.90 C500.58,330.32 500.70,335.58 501.10,338.60 C501.50,341.62 501.85,343.93 502.00,345.00" fill="none" stroke="#c1bd9c" stroke-width="1.4" stroke-linecap="round" stroke-linejoin="round"/>
<path d="M316.00,181.00 C316.20,183.50 316.87,190.83 317.20,196.00 C317.53,201.17 317.20,207.48 318.00,212.00 C318.80,216.52 319.75,219.92 322.00,223.10 C324.25,226.28 329.92,229.77 331.50,231.10" fill="none" stroke="#d9d5bf" stroke-width="1.3" stroke-linecap="round" stroke-linejoin="round"/>
<path d="M501.10,344.50 C501.10,346.45 501.23,352.62 501.10,356.20 C500.97,359.78 500.43,364.37 500.30,366.00" fill="none" stroke="#c1bd9c" stroke-width="1.3" stroke-linecap="round" stroke-linejoin="round"/>
<path d="M480.00,296.20 C480.48,297.17 482.17,299.80 482.90,302.00 C483.63,304.20 484.15,308.17 484.40,309.40" fill="none" stroke="#c1bd9c" stroke-width="1.3" stroke-linecap="round" stroke-linejoin="round"/>
<path d="M319.20,155.60 C320.17,154.50 322.87,150.73 325.00,149.00 C327.13,147.27 330.83,145.83 332.00,145.20" fill="none" stroke="#d9d5bf" stroke-width="1.3" stroke-linecap="round" stroke-linejoin="round"/>
<path d="M347.10,158.80 C348.30,160.67 352.70,166.02 354.30,170.00 C355.90,173.98 355.97,178.90 356.70,182.70 C357.43,186.50 357.30,188.98 358.70,192.80 C360.10,196.62 364.03,203.47 365.10,205.60" fill="none" stroke="#d9d5bf" stroke-width="1.3" stroke-linecap="round" stroke-linejoin="round"/>
<path d="M340.00,176.30 C341.17,176.58 344.88,177.20 347.00,178.00 C349.12,178.80 351.75,180.58 352.70,181.10" fill="none" stroke="#d9d5bf" stroke-width="1.3" stroke-linecap="round" stroke-linejoin="round"/>
<path d="M379.90,142.80 C381.50,144.67 386.83,150.80 389.50,154.00 C392.17,157.20 395.10,158.55 395.90,162.00 C396.70,165.45 394.30,170.72 394.30,174.70 C394.30,178.68 394.30,182.17 395.90,185.90 C397.50,189.63 400.70,192.57 403.90,197.10 C407.10,201.63 412.58,209.37 415.10,213.10 C417.62,216.83 418.35,218.43 419.00,219.50" fill="none" stroke="#d9d5bf" stroke-width="1.3" stroke-linecap="round" stroke-linejoin="round"/>
<path d="M395.90,162.00 C396.42,161.17 397.93,158.20 399.00,157.00 C400.07,155.80 401.75,155.17 402.30,154.80" fill="none" stroke="#d9d5bf" stroke-width="1.3" stroke-linecap="round" stroke-linejoin="round"/>
<path d="M378.30,176.30 C379.58,177.08 383.33,179.13 386.00,181.00 C388.67,182.87 392.92,186.42 394.30,187.50" fill="none" stroke="#d9d5bf" stroke-width="1.3" stroke-linecap="round" stroke-linejoin="round"/>
<path d="M371.50,220.00 C372.83,221.58 376.03,227.38 379.50,229.50 C382.97,231.62 388.50,231.57 392.30,232.70 C396.10,233.83 397.68,235.70 402.30,236.30 C406.92,236.90 417.05,236.30 420.00,236.30" fill="none" stroke="#d9d5bf" stroke-width="1.3" stroke-linecap="round" stroke-linejoin="round"/>
<path d="M369.90,235.10 C370.75,234.58 373.07,232.73 375.00,232.00 C376.93,231.27 380.42,230.92 381.50,230.70" fill="none" stroke="#d9d5bf" stroke-width="1.3" stroke-linecap="round" stroke-linejoin="round"/>
<path d="M300.00,241.90 C301.87,242.95 308.07,246.00 311.20,248.20 C314.33,250.40 317.53,253.95 318.80,255.10" fill="none" stroke="#d9d5bf" stroke-width="1.3" stroke-linecap="round" stroke-linejoin="round"/>
<path d="M443.60,170.00 C445.45,171.07 450.98,174.53 454.70,176.40 C458.42,178.27 462.17,179.73 465.90,181.20 C469.63,182.67 473.37,183.60 477.10,185.20 C480.83,186.80 486.43,189.87 488.30,190.80" fill="none" stroke="#d9d5bf" stroke-width="1.3" stroke-linecap="round" stroke-linejoin="round"/>
<path d="M422.80,179.60 C424.13,181.47 428.40,188.00 430.80,190.80 C433.20,193.60 434.53,196.13 437.20,196.40 C439.87,196.67 443.35,193.33 446.80,192.40 C450.25,191.47 453.92,190.80 457.90,190.80 C461.88,190.80 466.97,190.53 470.70,192.40 C474.43,194.27 478.03,199.33 480.30,202.00 C482.57,204.67 483.63,207.33 484.30,208.40" fill="none" stroke="#d9d5bf" stroke-width="1.3" stroke-linecap="round" stroke-linejoin="round"/>
<path d="M437.20,196.40 C437.07,198.13 436.53,205.07 436.40,206.80" fill="none" stroke="#d9d5bf" stroke-width="1.3" stroke-linecap="round" stroke-linejoin="round"/>
<path d="M410.00,208.40 C411.07,209.45 415.07,211.78 416.40,214.70 C417.73,217.62 417.73,222.43 418.00,225.90 C418.27,229.37 416.67,232.57 418.00,235.50 C419.33,238.43 423.60,240.83 426.00,243.50 C428.40,246.17 431.33,250.17 432.40,251.50" fill="none" stroke="#d9d5bf" stroke-width="1.3" stroke-linecap="round" stroke-linejoin="round"/>
<path d="M416.40,216.00 C417.50,216.50 420.60,217.88 423.00,219.00 C425.40,220.12 429.50,222.08 430.80,222.70" fill="none" stroke="#d9d5bf" stroke-width="1.3" stroke-linecap="round" stroke-linejoin="round"/>
<path d="M457.90,225.90 C457.23,227.23 454.30,230.43 453.90,233.90 C453.50,237.37 454.83,242.43 455.50,246.70 C456.17,250.97 457.50,255.23 457.90,259.50 C458.30,263.77 458.17,269.10 457.90,272.30 C457.63,275.50 456.57,277.63 456.30,278.70" fill="none" stroke="#d9d5bf" stroke-width="1.3" stroke-linecap="round" stroke-linejoin="round"/>
<path d="M489.90,248.30 C488.30,249.63 482.70,253.37 480.30,256.30 C477.90,259.23 476.57,262.17 475.50,265.90 C474.43,269.63 474.70,274.98 473.90,278.70 C473.10,282.42 471.23,286.62 470.70,288.20" fill="none" stroke="#d9d5bf" stroke-width="1.3" stroke-linecap="round" stroke-linejoin="round"/>
<path d="M496.10,225.90 C497.57,227.85 502.70,233.70 504.90,237.60 C507.10,241.50 507.83,245.40 509.30,249.30 C510.77,253.20 512.48,258.32 513.70,261.00 C514.92,263.68 514.90,265.15 516.60,265.40 C518.30,265.65 521.70,263.48 523.90,262.50 C526.10,261.52 528.08,261.22 529.80,259.50 C531.52,257.78 532.73,253.65 534.20,252.20 C535.67,250.75 537.38,249.58 538.60,250.80 C539.82,252.02 540.52,256.33 541.50,259.50 C542.48,262.67 542.55,267.10 544.50,269.80 C546.45,272.50 551.75,274.72 553.20,275.70" fill="none" stroke="#d9d5bf" stroke-width="1.3" stroke-linecap="round" stroke-linejoin="round"/>
<path d="M497.60,263.90 C499.17,264.00 503.83,264.25 507.00,264.50 C510.17,264.75 515.00,265.25 516.60,265.40" fill="none" stroke="#d9d5bf" stroke-width="1.3" stroke-linecap="round" stroke-linejoin="round"/>
<path d="M526.90,228.80 C527.63,230.27 530.08,234.43 531.30,237.60 C532.52,240.77 532.98,245.60 534.20,247.80 C535.42,250.00 537.87,250.30 538.60,250.80" fill="none" stroke="#d9d5bf" stroke-width="1.3" stroke-linecap="round" stroke-linejoin="round"/>
<path d="M540.10,222.90 C541.32,224.13 545.70,227.37 547.40,230.30 C549.10,233.23 549.57,237.08 550.30,240.50 C551.03,243.92 551.55,249.08 551.80,250.80" fill="none" stroke="#d9d5bf" stroke-width="1.3" stroke-linecap="round" stroke-linejoin="round"/>
<path d="M544.50,272.70 C542.53,274.17 536.62,278.08 532.70,281.50 C528.78,284.92 525.15,289.78 521.00,293.20 C516.85,296.62 510.00,300.53 507.80,302.00" fill="none" stroke="#d9d5bf" stroke-width="1.3" stroke-linecap="round" stroke-linejoin="round"/>
<path d="M535.70,303.50 C533.25,304.72 525.88,308.85 521.00,310.80 C516.12,312.75 511.28,314.22 506.40,315.20 C501.52,316.18 494.15,316.45 491.70,316.70" fill="none" stroke="#d9d5bf" stroke-width="1.3" stroke-linecap="round" stroke-linejoin="round"/>
<path d="M556.20,297.60 C556.93,299.32 558.90,305.22 560.60,307.90 C562.30,310.58 566.40,313.70 566.40,313.70" fill="none" stroke="#d9d5bf" stroke-width="1.3" stroke-linecap="round" stroke-linejoin="round"/>
<path d="M565.00,262.50 C566.82,262.25 575.90,261.00 575.90,261.00" fill="none" stroke="#d9d5bf" stroke-width="1.3" stroke-linecap="round" stroke-linejoin="round"/>
<path d="M480.00,255.20 C481.47,254.22 487.33,250.28 488.80,249.30" fill="none" stroke="#d9d5bf" stroke-width="1.3" stroke-linecap="round" stroke-linejoin="round"/>
<path d="M518.70,178.00 C519.75,180.67 523.28,189.67 525.00,194.00 C526.72,198.33 528.33,202.33 529.00,204.00" fill="none" stroke="#d9d5bf" stroke-width="1.3" stroke-linecap="round" stroke-linejoin="round"/>
<path d="M400.00,310.80 C401.95,311.53 408.03,314.35 411.70,315.20 C415.37,316.05 418.08,316.63 422.00,315.90 C425.92,315.17 432.52,312.38 435.20,310.80 C437.88,309.22 437.50,309.10 438.10,306.40 C438.70,303.70 438.68,296.57 438.80,294.60" fill="none" stroke="#d9d5bf" stroke-width="1.6" stroke-linecap="round" stroke-linejoin="round"/>
<path d="M435.20,310.80 C436.65,311.03 440.98,311.47 443.90,312.20 C446.82,312.93 450.73,313.98 452.70,315.20 C454.67,316.42 454.72,317.32 455.70,319.50 C456.68,321.68 457.13,326.33 458.60,328.30 C460.07,330.27 462.07,330.32 464.50,331.30 C466.93,332.28 470.77,333.23 473.20,334.20 C475.63,335.17 477.38,335.63 479.10,337.10 C480.82,338.57 482.52,340.32 483.50,343.00 C484.48,345.68 484.63,350.03 485.00,353.20 C485.37,356.37 485.58,360.53 485.70,362.00" fill="none" stroke="#d9d5bf" stroke-width="1.6" stroke-linecap="round" stroke-linejoin="round"/>
<path d="M416.10,318.10 C416.35,319.57 417.12,323.97 417.60,326.90 C418.08,329.83 418.77,334.23 419.00,335.70" fill="none" stroke="#d9d5bf" stroke-width="1.3" stroke-linecap="round" stroke-linejoin="round"/>
<path d="M400.00,341.50 C400.98,342.72 403.95,345.87 405.90,348.80 C407.85,351.73 409.02,357.87 411.70,359.10 C414.38,360.33 418.58,357.67 422.00,356.20 C425.42,354.73 430.00,352.75 432.20,350.30 C434.40,347.85 434.95,344.67 435.20,341.50 C435.45,338.33 433.95,333.00 433.70,331.30" fill="none" stroke="#d9d5bf" stroke-width="1.3" stroke-linecap="round" stroke-linejoin="round"/>
<path d="M432.20,350.30 C432.93,350.78 433.92,351.98 436.60,353.20 C439.28,354.42 444.63,356.13 448.30,357.60 C451.97,359.07 456.40,360.77 458.60,362.00 C460.80,363.23 461.02,364.50 461.50,365.00" fill="none" stroke="#d9d5bf" stroke-width="1.3" stroke-linecap="round" stroke-linejoin="round"/>
<path d="M371.50,309.90 C373.90,309.77 381.37,308.97 385.90,309.10 C390.43,309.23 396.35,310.42 398.70,310.70 C401.05,310.98 399.78,310.78 400.00,310.80" fill="none" stroke="#d9d5bf" stroke-width="1.6" stroke-linecap="round" stroke-linejoin="round"/>
<path d="M395.50,289.10 C395.75,290.92 396.47,296.40 397.00,300.00 C397.53,303.60 398.42,308.92 398.70,310.70" fill="none" stroke="#d9d5bf" stroke-width="1.3" stroke-linecap="round" stroke-linejoin="round"/>
<path d="M371.50,338.70 C373.90,337.90 382.17,334.43 385.90,333.90 C389.63,333.37 391.23,334.17 393.90,335.50 C396.57,336.83 400.57,340.83 401.90,341.90" fill="none" stroke="#d9d5bf" stroke-width="1.6" stroke-linecap="round" stroke-linejoin="round"/>
<path d="M401.90,262.00 C402.97,263.58 406.17,268.32 408.30,271.50 C410.43,274.68 413.23,277.90 414.70,281.10 C416.17,284.30 416.70,289.10 417.10,290.70" fill="none" stroke="#d9d5bf" stroke-width="1.3" stroke-linecap="round" stroke-linejoin="round"/>
<path d="M363.50,256.70 C363.23,257.77 363.50,260.97 361.90,263.10 C360.30,265.23 358.17,267.37 353.90,269.50 C349.63,271.63 342.15,276.17 336.30,275.90 C330.45,275.63 321.72,269.23 318.80,267.90" fill="none" stroke="#d9d5bf" stroke-width="1.3" stroke-linecap="round" stroke-linejoin="round"/>
<path d="M291.60,196.00 C291.87,198.13 292.13,204.80 293.20,208.80 C294.27,212.80 297.47,216.28 298.00,220.00 C298.53,223.72 296.13,227.65 296.40,231.10 C296.67,234.55 297.47,238.03 299.60,240.70 C301.73,243.37 306.00,244.70 309.20,247.10 C312.40,249.50 317.20,253.77 318.80,255.10" fill="none" stroke="#d9d5bf" stroke-width="1.3" stroke-linecap="round" stroke-linejoin="round"/>
<path d="M310.80,288.70 C308.93,289.23 303.07,290.32 299.60,291.90 C296.13,293.48 291.60,297.15 290.00,298.20" fill="none" stroke="#d9d5bf" stroke-width="1.3" stroke-linecap="round" stroke-linejoin="round"/>
<path d="M250.60,202.00 C251.72,203.55 255.75,208.42 257.30,211.30 C258.85,214.18 259.35,216.42 259.90,219.30 C260.45,222.18 260.48,227.05 260.60,228.60" fill="none" stroke="#d9d5bf" stroke-width="1.3" stroke-linecap="round" stroke-linejoin="round"/>
<path d="M258.00,208.00 C259.00,207.17 261.68,204.33 264.00,203.00 C266.32,201.67 270.58,200.50 271.90,200.00" fill="none" stroke="#d9d5bf" stroke-width="1.3" stroke-linecap="round" stroke-linejoin="round"/>
<path d="M224.00,220.60 C225.33,221.93 229.78,226.15 232.00,228.60 C234.22,231.05 236.20,232.42 237.30,235.30 C238.40,238.18 238.60,242.35 238.60,245.90 C238.60,249.45 237.52,254.82 237.30,256.60" fill="none" stroke="#d9d5bf" stroke-width="1.3" stroke-linecap="round" stroke-linejoin="round"/>
<path d="M237.30,235.30 C237.58,234.25 238.33,230.78 239.00,229.00 C239.67,227.22 240.92,225.33 241.30,224.60" fill="none" stroke="#d9d5bf" stroke-width="1.3" stroke-linecap="round" stroke-linejoin="round"/>
<path d="M276.60,212.60 C276.82,214.38 278.23,219.75 277.90,223.30 C277.57,226.85 275.27,231.02 274.60,233.90 C273.93,236.78 273.02,238.60 273.90,240.60 C274.78,242.60 278.02,243.90 279.90,245.90 C281.78,247.90 283.65,249.72 285.20,252.60 C286.75,255.48 287.87,259.65 289.20,263.20 C290.53,266.75 291.65,270.57 293.20,273.90 C294.75,277.23 296.70,281.02 298.50,283.20 C300.30,285.38 301.95,286.08 304.00,287.00 C306.05,287.92 309.67,288.42 310.80,288.70" fill="none" stroke="#d9d5bf" stroke-width="1.3" stroke-linecap="round" stroke-linejoin="round"/>
<path d="M274.50,238.50 C275.85,238.40 281.25,238.00 282.60,237.90" fill="none" stroke="#d9d5bf" stroke-width="1.3" stroke-linecap="round" stroke-linejoin="round"/>
<path d="M291.90,195.30 C292.12,197.30 292.98,205.30 293.20,207.30" fill="none" stroke="#d9d5bf" stroke-width="1.3" stroke-linecap="round" stroke-linejoin="round"/>
<path d="M265.20,252.60 C265.10,254.60 264.65,261.70 264.60,264.60 C264.55,267.50 265.28,268.22 264.90,270.00 C264.52,271.78 264.52,273.97 262.30,275.30 C260.08,276.63 254.72,276.45 251.60,278.00 C248.48,279.55 246.70,281.72 243.60,284.60 C240.50,287.48 234.77,293.52 233.00,295.30" fill="none" stroke="#d9d5bf" stroke-width="1.3" stroke-linecap="round" stroke-linejoin="round"/>
<path d="M262.30,275.30 C262.52,276.63 262.05,280.42 263.60,283.30 C265.15,286.18 270.27,291.05 271.60,292.60" fill="none" stroke="#d9d5bf" stroke-width="1.3" stroke-linecap="round" stroke-linejoin="round"/>
<path d="M216.00,239.30 C216.22,240.18 217.08,243.72 217.30,244.60" fill="none" stroke="#d9d5bf" stroke-width="1.3" stroke-linecap="round" stroke-linejoin="round"/>
<path d="M207.70,286.00 C208.58,285.17 211.02,282.33 213.00,281.00 C214.98,279.67 218.50,278.50 219.60,278.00" fill="none" stroke="#d9d5bf" stroke-width="1.3" stroke-linecap="round" stroke-linejoin="round"/>
<path d="M249.00,302.00 C248.10,302.88 245.38,304.65 243.60,307.30 C241.82,309.95 240.97,315.23 238.30,317.90 C235.63,320.57 230.48,321.52 227.60,323.30 C224.72,325.08 222.33,327.05 221.00,328.60 C219.67,330.15 219.83,331.93 219.60,332.60" fill="none" stroke="#d9d5bf" stroke-width="1.3" stroke-linecap="round" stroke-linejoin="round"/>
<path d="M272.20,302.00 C272.32,303.98 271.67,310.35 272.90,313.90 C274.13,317.45 276.93,321.30 279.60,323.30 C282.27,325.30 284.67,326.13 288.90,325.90 C293.13,325.67 302.32,322.57 305.00,321.90" fill="none" stroke="#d9d5bf" stroke-width="1.3" stroke-linecap="round" stroke-linejoin="round"/>
<path d="M291.60,270.00 C292.70,271.78 295.97,278.37 298.20,280.70 C300.43,283.03 303.87,283.45 305.00,284.00" fill="none" stroke="#d9d5bf" stroke-width="1.3" stroke-linecap="round" stroke-linejoin="round"/>
<path d="M294.20,299.30 C294.87,298.42 296.40,295.78 298.20,294.00 C300.00,292.22 303.87,289.50 305.00,288.60" fill="none" stroke="#d9d5bf" stroke-width="1.3" stroke-linecap="round" stroke-linejoin="round"/>
<path d="M304.50,149.60 C303.83,151.00 301.37,155.93 300.50,158.00 C299.63,160.07 299.77,159.67 299.30,162.00 C298.83,164.33 298.50,169.00 297.70,172.00 C296.90,175.00 296.10,177.88 294.50,180.00 C292.90,182.12 290.50,183.65 288.10,184.70 C285.70,185.75 281.43,186.03 280.10,186.30" fill="none" stroke="#d9d5bf" stroke-width="1.3" stroke-linecap="round" stroke-linejoin="round"/>
<path d="M226.30,354.40 C227.72,354.48 231.97,355.00 234.80,354.90 C237.63,354.80 240.82,354.25 243.30,353.80 C245.78,353.35 247.40,352.63 249.70,352.20 C252.00,351.77 255.87,351.37 257.10,351.20" fill="none" stroke="#d9d5bf" stroke-width="1.3" stroke-linecap="round" stroke-linejoin="round"/>
<path d="M238.00,350.10 C239.23,349.67 241.85,348.12 245.40,347.50 C248.95,346.88 255.22,346.40 259.30,346.40 C263.38,346.40 267.07,347.50 269.90,347.50 C272.73,347.50 275.23,346.58 276.30,346.40" fill="none" stroke="#d9d5bf" stroke-width="1.3" stroke-linecap="round" stroke-linejoin="round"/>
<path d="M250.80,360.20 C252.22,359.67 256.12,357.97 259.30,357.00 C262.48,356.03 266.35,354.93 269.90,354.40 C273.45,353.87 277.05,353.72 280.60,353.80 C284.15,353.88 286.97,354.07 291.20,354.90 C295.43,355.73 300.87,356.90 306.00,358.80 C311.13,360.70 317.57,363.63 322.00,366.30 C326.43,368.97 329.60,371.60 332.60,374.80 C335.60,378.00 337.87,382.48 340.00,385.50 C342.13,388.52 344.50,391.67 345.40,392.90" fill="none" stroke="#d9d5bf" stroke-width="1.3" stroke-linecap="round" stroke-linejoin="round"/>
<path d="M226.30,361.30 C227.72,361.57 231.97,362.45 234.80,362.90 C237.63,363.35 241.88,363.82 243.30,364.00" fill="none" stroke="#d9d5bf" stroke-width="1.3" stroke-linecap="round" stroke-linejoin="round"/>
<path d="M262.50,365.00 C264.62,364.83 271.30,364.00 275.20,364.00 C279.10,364.00 281.43,364.38 285.90,365.00 C290.37,365.62 297.32,366.70 302.00,367.70 C306.68,368.70 310.67,369.63 314.00,371.00 C317.33,372.37 318.55,373.48 322.00,375.90 C325.45,378.32 332.58,383.90 334.70,385.50" fill="none" stroke="#d9d5bf" stroke-width="1.3" stroke-linecap="round" stroke-linejoin="round"/>
<path d="M245.40,368.20 C246.83,368.65 251.15,370.37 254.00,370.90 C256.85,371.43 261.08,371.32 262.50,371.40" fill="none" stroke="#d9d5bf" stroke-width="1.3" stroke-linecap="round" stroke-linejoin="round"/>
<path d="M228.40,368.80 C229.63,369.50 232.97,372.12 235.80,373.00 C238.63,373.88 243.08,374.02 245.40,374.10 C247.72,374.18 248.98,373.60 249.70,373.50" fill="none" stroke="#d9d5bf" stroke-width="1.3" stroke-linecap="round" stroke-linejoin="round"/>
<path d="M246.50,376.20 C247.57,376.73 250.77,378.78 252.90,379.40 C255.03,380.02 258.23,379.82 259.30,379.90" fill="none" stroke="#d9d5bf" stroke-width="1.3" stroke-linecap="round" stroke-linejoin="round"/>
<path d="M260.30,375.10 C261.37,376.00 263.85,378.90 266.70,380.50 C269.55,382.10 273.85,383.63 277.40,384.70 C280.95,385.77 283.90,386.00 288.00,386.90 C292.10,387.80 298.12,389.72 302.00,390.10 C305.88,390.48 307.97,389.43 311.30,389.20 C314.63,388.97 320.22,388.78 322.00,388.70" fill="none" stroke="#d9d5bf" stroke-width="1.3" stroke-linecap="round" stroke-linejoin="round"/>
<path d="M285.90,375.10 C287.67,375.63 293.15,377.47 296.50,378.30 C299.85,379.13 301.75,378.73 306.00,380.10 C310.25,381.47 317.57,384.53 322.00,386.50 C326.43,388.47 328.70,390.83 332.60,391.90 C336.50,392.97 343.27,392.73 345.40,392.90" fill="none" stroke="#d9d5bf" stroke-width="1.3" stroke-linecap="round" stroke-linejoin="round"/>
<path d="M232.60,377.30 C234.03,378.18 237.63,381.37 241.20,382.60 C244.77,383.83 251.17,384.52 254.00,384.70 C256.83,384.88 257.50,383.87 258.20,383.70" fill="none" stroke="#d9d5bf" stroke-width="1.3" stroke-linecap="round" stroke-linejoin="round"/>
<path d="M256.10,385.80 C257.17,386.68 259.83,390.03 262.50,391.10 C265.17,392.17 270.50,392.02 272.10,392.20" fill="none" stroke="#d9d5bf" stroke-width="1.3" stroke-linecap="round" stroke-linejoin="round"/>
<path d="M243.30,389.00 C243.83,389.70 244.20,392.32 246.50,393.20 C248.80,394.08 254.08,394.30 257.10,394.30 C260.12,394.30 263.35,393.38 264.60,393.20" fill="none" stroke="#d9d5bf" stroke-width="1.3" stroke-linecap="round" stroke-linejoin="round"/>
<path d="M275.20,396.40 C276.98,397.12 282.35,399.45 285.90,400.70 C289.45,401.95 293.82,403.18 296.50,403.90 C299.18,404.62 301.08,404.82 302.00,405.00" fill="none" stroke="#d9d5bf" stroke-width="1.3" stroke-linecap="round" stroke-linejoin="round"/>
<path d="M282.00,390.00 C283.33,390.32 287.60,391.07 290.00,391.90 C292.40,392.73 294.63,393.77 296.40,395.00 C298.17,396.23 298.12,398.93 300.60,399.30 C303.08,399.67 306.85,398.08 311.30,397.20 C315.75,396.32 324.63,394.53 327.30,394.00" fill="none" stroke="#d9d5bf" stroke-width="1.3" stroke-linecap="round" stroke-linejoin="round"/>
<path d="M263.50,398.00 C264.57,398.63 267.05,401.00 269.90,401.80 C272.75,402.60 278.82,402.63 280.60,402.80" fill="none" stroke="#d9d5bf" stroke-width="1.3" stroke-linecap="round" stroke-linejoin="round"/>
<path d="M251.80,400.70 C253.05,401.23 256.28,402.83 259.30,403.90 C262.32,404.97 266.72,406.38 269.90,407.10 C273.08,407.82 275.02,407.67 278.40,408.20 C281.78,408.73 285.60,409.83 290.20,410.30 C294.80,410.77 300.70,411.23 306.00,411.00 C311.30,410.77 316.85,410.67 322.00,408.90 C327.15,407.13 333.00,403.07 336.90,400.40 C340.80,397.73 343.98,394.15 345.40,392.90" fill="none" stroke="#d9d5bf" stroke-width="1.3" stroke-linecap="round" stroke-linejoin="round"/>
<path d="M290.00,402.50 C291.77,402.85 296.17,404.25 300.60,404.60 C305.03,404.95 311.62,405.67 316.60,404.60 C321.58,403.53 328.18,399.27 330.50,398.20" fill="none" stroke="#d9d5bf" stroke-width="1.3" stroke-linecap="round" stroke-linejoin="round"/>
<path d="M257.10,409.20 C258.35,409.57 261.58,410.68 264.60,411.40 C267.62,412.12 271.65,412.98 275.20,413.50 C278.75,414.02 283.43,414.38 285.90,414.50 C288.37,414.62 285.77,414.07 290.00,414.20 C294.23,414.33 305.08,415.47 311.30,415.30 C317.52,415.13 324.63,413.55 327.30,413.20" fill="none" stroke="#d9d5bf" stroke-width="1.3" stroke-linecap="round" stroke-linejoin="round"/>
<path d="M345.40,392.90 C344.17,389.92 340.67,380.15 338.00,375.00 C335.33,369.85 330.83,364.17 329.40,362.00" fill="none" stroke="#d9d5bf" stroke-width="1.3" stroke-linecap="round" stroke-linejoin="round"/>
<path d="M345.40,392.90 C345.33,390.42 345.37,382.43 345.00,378.00 C344.63,373.57 343.50,368.25 343.20,366.30" fill="none" stroke="#d9d5bf" stroke-width="1.3" stroke-linecap="round" stroke-linejoin="round"/>
<path d="M345.40,392.90 C346.00,390.75 347.77,384.17 349.00,380.00 C350.23,375.83 352.17,369.92 352.80,367.90" fill="none" stroke="#d9d5bf" stroke-width="1.3" stroke-linecap="round" stroke-linejoin="round"/>
<path d="M345.40,392.90 C346.67,391.08 350.70,385.72 353.00,382.00 C355.30,378.28 358.17,372.50 359.20,370.60" fill="none" stroke="#d9d5bf" stroke-width="1.3" stroke-linecap="round" stroke-linejoin="round"/>
<path d="M345.40,392.90 C345.93,393.62 346.47,395.95 348.60,397.20 C350.73,398.45 356.60,399.87 358.20,400.40" fill="none" stroke="#c1bd9c" stroke-width="1.3" stroke-linecap="round" stroke-linejoin="round"/>
<path d="M290.00,349.30 C291.77,349.92 297.40,352.47 300.60,353.00 C303.80,353.53 306.70,353.12 309.20,352.50 C311.70,351.88 314.53,349.83 315.60,349.30" fill="none" stroke="#d9d5bf" stroke-width="1.3" stroke-linecap="round" stroke-linejoin="round"/>
<path d="M226.30,338.20 C226.30,338.20 222.03,334.62 219.90,332.40 C217.77,330.18 215.37,327.38 213.50,324.90 C211.63,322.42 209.35,319.73 208.70,317.50 C208.05,315.27 209.35,312.77 209.60,311.50 C209.85,310.23 210.20,309.90 210.20,309.90 C210.20,309.90 207.93,306.17 207.00,303.50 C206.07,300.83 204.73,296.83 204.60,293.90 C204.47,290.97 206.20,285.90 206.20,285.90 C206.20,285.90 204.60,276.02 204.60,271.50 C204.60,266.98 205.33,262.60 206.20,258.80 C207.07,255.00 208.67,251.72 209.80,248.70 C210.93,245.68 212.07,242.83 213.00,240.70 C213.93,238.57 214.60,238.57 215.40,235.90 C216.20,233.23 216.87,227.23 217.80,224.70 C218.73,222.17 221.00,220.70 221.00,220.70 C221.00,220.70 223.40,220.57 224.20,219.10 C225.00,217.63 224.47,214.97 225.80,211.90 C227.13,208.83 229.80,204.43 232.20,200.70 C234.60,196.97 237.82,192.57 240.20,189.50 C242.58,186.43 244.38,183.88 246.50,182.30 C248.62,180.72 251.30,180.65 252.90,180.00 C254.50,179.35 256.10,178.40 256.10,178.40 C256.10,178.40 257.70,173.33 259.30,171.20 C260.90,169.07 263.03,167.47 265.70,165.60 C268.37,163.73 271.57,161.97 275.30,160.00 C279.03,158.03 284.48,155.40 288.10,153.80 C291.72,152.20 294.15,151.27 297.00,150.40 C299.85,149.53 305.20,148.60 305.20,148.60 C305.20,148.60 307.27,147.05 309.60,146.30 C311.93,145.55 316.00,144.55 319.20,144.10 C322.40,143.65 326.40,144.03 328.80,143.60 C331.20,143.17 330.42,142.30 333.60,141.50 C336.78,140.70 342.85,139.52 347.90,138.80 C352.95,138.08 359.90,137.33 363.90,137.20 C367.90,137.07 369.50,137.38 371.90,138.00 C374.30,138.62 378.30,140.90 378.30,140.90 C378.30,140.90 378.57,140.38 381.50,139.90 C384.43,139.42 390.83,138.10 395.90,138.00 C400.97,137.90 407.88,138.90 411.90,139.30 C415.92,139.70 416.55,139.47 420.00,140.40 C423.45,141.33 428.95,143.53 432.60,144.90 C436.25,146.27 439.25,147.48 441.90,148.60 C444.55,149.72 446.17,151.05 448.50,151.60 C450.83,152.15 451.48,151.33 455.90,151.90 C460.32,152.47 468.48,153.15 475.00,155.00 C481.52,156.85 489.23,160.00 495.00,163.00 C500.77,166.00 509.60,173.00 509.60,173.00 C509.60,173.00 513.47,177.27 515.20,179.40 C516.93,181.53 520.00,185.80 520.00,185.80 C520.00,185.80 524.55,186.73 528.00,188.20 C531.45,189.67 536.72,192.07 540.70,194.60 C544.68,197.13 548.17,199.82 551.90,203.40 C555.63,206.98 560.68,213.33 563.10,216.10 C565.52,218.87 564.38,217.15 566.40,220.00 C568.42,222.85 573.00,229.05 575.20,233.20 C577.40,237.35 579.12,241.00 579.60,244.90 C580.08,248.80 578.72,253.92 578.10,256.60 C577.48,259.28 575.90,261.00 575.90,261.00 C575.90,261.00 577.45,267.63 578.50,271.30 C579.55,274.97 581.47,278.62 582.20,283.00 C582.93,287.38 583.33,293.45 582.90,297.60 C582.47,301.75 581.13,305.45 579.60,307.90 C578.07,310.35 575.90,311.33 573.70,312.30 C571.50,313.27 566.40,313.70 566.40,313.70 C566.40,313.70 566.08,317.03 565.00,319.60 C563.92,322.17 562.88,326.45 559.90,329.10 C556.92,331.75 551.37,333.90 547.10,335.50 C542.83,337.10 539.08,337.63 534.30,338.70 C529.52,339.77 523.18,340.83 518.40,341.90 C513.62,342.97 505.60,345.10 505.60,345.10 C505.60,345.10 502.35,348.68 501.50,352.00 C500.65,355.32 501.42,360.83 500.50,365.00 C499.58,369.17 499.42,373.75 496.00,377.00 C492.58,380.25 486.48,383.22 480.00,384.50 C473.52,385.78 463.12,384.67 457.10,384.70 C451.08,384.73 448.53,384.77 443.90,384.70 C439.27,384.63 434.18,384.67 429.30,384.30 C424.42,383.93 419.48,383.17 414.60,382.50 C409.72,381.83 404.07,381.30 400.00,380.30 C395.93,379.30 392.30,377.08 390.20,376.50 C388.10,375.92 387.40,376.80 387.40,376.80 C387.40,376.80 381.20,384.50 377.90,387.80 C374.60,391.10 371.02,393.92 367.60,396.60 C364.18,399.28 360.08,401.95 357.40,403.90 C354.72,405.85 352.97,406.58 351.50,408.30 C350.03,410.02 350.30,412.23 348.60,414.20 C346.90,416.17 343.98,417.67 341.30,420.10 C338.62,422.53 335.43,425.15 332.50,428.80 C329.57,432.45 326.63,437.35 323.70,442.00 C320.77,446.65 318.02,450.37 314.90,456.70 C311.78,463.03 308.32,471.78 305.00,480.00 C301.68,488.22 298.35,496.85 295.00,506.00 C291.65,515.15 288.73,525.07 284.90,534.90 C281.07,544.73 275.97,555.87 272.00,565.00 C268.03,574.13 263.77,583.53 261.10,589.70 C258.43,595.87 259.02,599.95 256.00,602.00 C252.98,604.05 244.28,604.05 243.00,602.00 C241.72,599.95 245.80,596.20 248.30,589.70 C250.80,583.20 254.50,572.13 258.00,563.00 C261.50,553.87 265.80,544.57 269.30,534.90 C272.80,525.23 275.95,514.15 279.00,505.00 C282.05,495.85 285.28,487.08 287.60,480.00 C289.92,472.92 291.03,468.33 292.90,462.50 C294.77,456.67 297.08,450.37 298.80,445.00 C300.52,439.63 302.03,434.70 303.20,430.30 C304.37,425.90 305.80,418.60 305.80,418.60 C305.80,418.60 293.95,419.90 290.00,420.00 C286.05,420.10 286.60,420.02 282.10,419.20 C277.60,418.38 268.58,417.18 263.00,415.10 C257.42,413.02 252.60,410.10 248.60,406.70 C244.60,403.30 241.47,397.87 239.00,394.70 C236.53,391.53 235.38,390.82 233.80,387.70 C232.22,384.58 230.75,379.55 229.50,376.00 C228.25,372.45 227.18,369.42 226.30,366.40 C225.42,363.38 224.65,360.55 224.20,357.90 C223.75,355.25 223.52,352.80 223.60,350.50 C223.68,348.20 223.72,345.78 224.70,344.10 C225.68,342.42 229.23,341.38 229.50,340.40 C229.77,339.42 226.30,338.20 226.30,338.20 Z" fill="none" stroke="#c1bd9c" stroke-width="2.15" stroke-linejoin="round"/>
</g>
<rect x="458.05" y="71.0" width="250.5" height="101.35" fill="#faf9f6" stroke="#1c1c1c" stroke-width="1.4"/>
<rect x="457.6" y="365.75" width="250.9" height="94.65" fill="#faf9f6" stroke="#1c1c1c" stroke-width="1.4"/>
<rect x="457.0" y="519.6" width="250.6" height="100.0" fill="#faf9f6" stroke="#1c1c1c" stroke-width="1.4"/>
<path d="M458.80,159.05 L459.30,159.02 L459.80,158.94 L460.30,158.80 L460.80,158.61 L461.30,158.36 L461.80,158.07 L462.30,157.71 L462.80,157.31 L463.30,156.86 L463.80,156.35 L464.30,155.80 L464.80,155.20 L465.30,154.56 L465.80,153.87 L466.30,153.14 L466.80,152.37 L467.30,151.56 L467.80,150.71 L468.30,149.84 L468.80,148.92 L469.30,147.98 L469.80,147.02 L470.30,146.03 L470.80,145.01 L471.30,143.98 L471.80,142.93 L472.30,141.86 L472.80,140.79 L473.30,139.70 L473.80,138.61 L474.30,137.52 L474.80,136.42 L475.30,135.33 L475.80,134.24 L476.30,133.16 L476.80,132.09 L477.30,131.04 L477.80,130.00 L478.30,128.98 L478.80,127.98 L479.30,127.00 L479.80,126.05 L480.30,125.13 L480.80,124.23 L481.30,123.38 L481.80,122.55 L482.30,121.77 L482.80,121.02 L483.30,120.31 L483.80,119.65 L484.30,119.04 L484.80,118.46 L485.30,117.94 L485.80,117.47 L486.30,117.04 L486.80,116.67 L487.30,116.35 L487.80,116.08 L488.30,115.87 L488.80,115.71 L489.30,115.60 L489.80,115.55 L490.30,115.56 L490.80,115.62 L491.30,115.74 L491.80,115.91 L492.30,116.13 L492.80,116.41 L493.30,116.74 L493.80,117.12 L494.30,117.56 L494.80,118.04 L495.30,118.57 L495.80,119.15 L496.30,119.78 L496.80,120.45 L497.30,121.17 L497.80,121.92 L498.30,122.71 L498.80,123.54 L499.30,124.41 L499.80,125.31 L500.30,126.24 L500.80,127.19 L501.30,128.17 L501.80,129.18 L502.30,130.21 L502.80,131.25 L503.30,132.31 L503.80,133.38 L504.30,134.46 L504.80,135.55 L505.30,136.64 L505.80,137.74 L506.30,138.83 L506.80,139.92 L507.30,141.00 L507.80,142.08 L508.30,143.14 L508.80,144.19 L509.30,145.22 L509.80,146.23 L510.30,147.21 L510.80,148.18 L511.30,149.11 L511.80,150.01 L512.30,150.89 L512.80,151.72 L513.30,152.52 L513.80,153.29 L514.30,154.01 L514.80,154.69 L515.30,155.32 L515.80,155.91 L516.30,156.46 L516.80,156.95 L517.30,157.39 L517.80,157.79 L518.30,158.13 L518.80,158.42 L519.30,158.65 L519.80,158.83 L520.30,158.96 L520.80,159.03 L521.30,159.05 L521.80,159.01 L522.30,158.92 L522.80,158.77 L523.30,158.57 L523.80,158.31 L524.30,158.00 L524.80,157.64 L525.30,157.22 L525.80,156.76 L526.30,156.24 L526.80,155.68 L527.30,155.07 L527.80,154.42 L528.30,153.72 L528.80,152.99 L529.30,152.21 L529.80,151.39 L530.30,150.54 L530.80,149.66 L531.30,148.74 L531.80,147.79 L532.30,146.82 L532.80,145.83 L533.30,144.81 L533.80,143.77 L534.30,142.72 L534.80,141.65 L535.30,140.57 L535.80,139.49 L536.30,138.39 L536.80,137.30 L537.30,136.21 L537.80,135.11 L538.30,134.03 L538.80,132.95 L539.30,131.88 L539.80,130.83 L540.30,129.79 L540.80,128.77 L541.30,127.78 L541.80,126.81 L542.30,125.86 L542.80,124.94 L543.30,124.06 L543.80,123.21 L544.30,122.39 L544.80,121.61 L545.30,120.88 L545.80,120.18 L546.30,119.53 L546.80,118.92 L547.30,118.36 L547.80,117.84 L548.30,117.38 L548.80,116.96 L549.30,116.60 L549.80,116.29 L550.30,116.03 L550.80,115.83 L551.30,115.68 L551.80,115.59 L552.30,115.55 L552.80,115.57 L553.30,115.64 L553.80,115.77 L554.30,115.95 L554.80,116.18 L555.30,116.47 L555.80,116.81 L556.30,117.21 L556.80,117.65 L557.30,118.14 L557.80,118.69 L558.30,119.28 L558.80,119.91 L559.30,120.59 L559.80,121.31 L560.30,122.08 L560.80,122.88 L561.30,123.71 L561.80,124.59 L562.30,125.49 L562.80,126.42 L563.30,127.39 L563.80,128.37 L564.30,129.38 L564.80,130.41 L565.30,131.46 L565.80,132.52 L566.30,133.60 L566.80,134.68 L567.30,135.77 L567.80,136.86 L568.30,137.96 L568.80,139.05 L569.30,140.14 L569.80,141.22 L570.30,142.29 L570.80,143.35 L571.30,144.39 L571.80,145.42 L572.30,146.43 L572.80,147.41 L573.30,148.36 L573.80,149.29 L574.30,150.19 L574.80,151.06 L575.30,151.89 L575.80,152.68 L576.30,153.43 L576.80,154.15 L577.30,154.82 L577.80,155.45 L578.30,156.03 L578.80,156.56 L579.30,157.04 L579.80,157.48 L580.30,157.86 L580.80,158.19 L581.30,158.47 L581.80,158.69 L582.30,158.86 L582.80,158.98 L583.30,159.04 L583.80,159.05 L584.30,159.00 L584.80,158.89 L585.30,158.73 L585.80,158.52 L586.30,158.25 L586.80,157.93 L587.30,157.56 L587.80,157.13 L588.30,156.66 L588.80,156.14 L589.30,155.56 L589.80,154.95 L590.30,154.29 L590.80,153.58 L591.30,152.83 L591.80,152.05 L592.30,151.22 L592.80,150.37 L593.30,149.47 L593.80,148.55 L594.30,147.60 L594.80,146.62 L595.30,145.62 L595.80,144.60 L596.30,143.56 L596.80,142.51 L597.30,141.44 L597.80,140.36 L598.30,139.27 L598.80,138.18 L599.30,137.08 L599.80,135.99 L600.30,134.90 L600.80,133.81 L601.30,132.74 L601.80,131.67 L602.30,130.62 L602.80,129.59 L603.30,128.57 L603.80,127.58 L604.30,126.62 L604.80,125.68 L605.30,124.76 L605.80,123.89 L606.30,123.04 L606.80,122.23 L607.30,121.46 L607.80,120.73 L608.30,120.04 L608.80,119.40 L609.30,118.80 L609.80,118.25 L610.30,117.74 L610.80,117.29 L611.30,116.89 L611.80,116.53 L612.30,116.24 L612.80,115.99 L613.30,115.80 L613.80,115.66 L614.30,115.58 L614.80,115.55 L615.30,115.58 L615.80,115.66 L616.30,115.80 L616.80,115.99 L617.30,116.24 L617.80,116.53 L618.30,116.89 L618.80,117.29 L619.30,117.74 L619.80,118.25 L620.30,118.80 L620.80,119.40 L621.30,120.04 L621.80,120.73 L622.30,121.46 L622.80,122.23 L623.30,123.04 L623.80,123.89 L624.30,124.76 L624.80,125.68 L625.30,126.62 L625.80,127.58 L626.30,128.57 L626.80,129.59 L627.30,130.62 L627.80,131.67 L628.30,132.74 L628.80,133.81 L629.30,134.90 L629.80,135.99 L630.30,137.08 L630.80,138.18 L631.30,139.27 L631.80,140.36 L632.30,141.44 L632.80,142.51 L633.30,143.56 L633.80,144.60 L634.30,145.62 L634.80,146.62 L635.30,147.60 L635.80,148.55 L636.30,149.47 L636.80,150.37 L637.30,151.22 L637.80,152.05 L638.30,152.83 L638.80,153.58 L639.30,154.29 L639.80,154.95 L640.30,155.56 L640.80,156.14 L641.30,156.66 L641.80,157.13 L642.30,157.56 L642.80,157.93 L643.30,158.25 L643.80,158.52 L644.30,158.73 L644.80,158.89 L645.30,159.00 L645.80,159.05 L646.30,159.04 L646.80,158.98 L647.30,158.86 L647.80,158.69 L648.30,158.47 L648.80,158.19 L649.30,157.86 L649.80,157.48 L650.30,157.04 L650.80,156.56 L651.30,156.03 L651.80,155.45 L652.30,154.82 L652.80,154.15 L653.30,153.43 L653.80,152.68 L654.30,151.89 L654.80,151.06 L655.30,150.19 L655.80,149.29 L656.30,148.36 L656.80,147.41 L657.30,146.43 L657.80,145.42 L658.30,144.39 L658.80,143.35 L659.30,142.29 L659.80,141.22 L660.30,140.14 L660.80,139.05 L661.30,137.96 L661.80,136.86 L662.30,135.77 L662.80,134.68 L663.30,133.60 L663.80,132.52 L664.30,131.46 L664.80,130.41 L665.30,129.38 L665.80,128.37 L666.30,127.39 L666.80,126.43 L667.30,125.49 L667.80,124.59 L668.30,123.71 L668.80,122.88 L669.30,122.08 L669.80,121.31 L670.30,120.59 L670.80,119.91 L671.30,119.28 L671.80,118.69 L672.30,118.14 L672.80,117.65 L673.30,117.21 L673.80,116.81 L674.30,116.47 L674.80,116.18 L675.30,115.95 L675.80,115.77 L676.30,115.64 L676.80,115.57 L677.30,115.55 L677.80,115.59 L678.30,115.68 L678.80,115.83 L679.30,116.03 L679.80,116.29 L680.30,116.60 L680.80,116.96 L681.30,117.38 L681.80,117.84 L682.30,118.36 L682.80,118.92 L683.30,119.53 L683.80,120.18 L684.30,120.88 L684.80,121.61 L685.30,122.39 L685.80,123.21 L686.30,124.06 L686.80,124.94 L687.30,125.86 L687.80,126.81 L688.30,127.78 L688.80,128.77 L689.30,129.79 L689.80,130.83 L690.30,131.88 L690.80,132.95 L691.30,134.03 L691.80,135.11 L692.30,136.21 L692.80,137.30 L693.30,138.39 L693.80,139.49 L694.30,140.57 L694.80,141.65 L695.30,142.72 L695.80,143.77 L696.30,144.81 L696.80,145.83 L697.30,146.82 L697.80,147.79 L698.30,148.74 L698.80,149.66 L699.30,150.54 L699.80,151.39 L700.30,152.21 L700.80,152.99 L701.30,153.72 L701.80,154.42 L702.30,155.07 L702.80,155.68 L703.30,156.24 L703.80,156.76 L704.30,157.22 L704.80,157.64 L705.30,158.00 L705.80,158.31 L706.30,158.57 L706.80,158.77 L707.30,158.92 L707.80,159.01" fill="none" stroke="#4b91d1" stroke-width="2.3"/>
<path d="M458.80,423.03 L459.05,423.00 L459.30,423.01 L459.55,423.05 L459.80,423.14 L460.05,423.26 L460.30,423.41 L460.55,423.61 L460.80,423.83 L461.05,424.09 L461.30,424.37 L461.55,424.68 L461.80,425.01 L462.05,425.36 L462.30,425.72 L462.55,426.09 L462.80,426.47 L463.05,426.85 L463.30,427.23 L463.55,427.59 L463.80,427.94 L464.05,428.27 L464.30,428.57 L464.55,428.83 L464.80,429.06 L465.05,429.23 L465.30,429.36 L465.55,429.43 L465.80,429.43 L466.05,429.36 L466.30,429.22 L466.55,429.00 L466.80,428.71 L467.05,428.34 L467.30,427.88 L467.55,427.35 L467.80,426.75 L468.05,426.08 L468.30,425.35 L468.55,424.57 L468.80,423.74 L469.05,422.89 L469.30,422.02 L469.55,421.15 L469.80,420.31 L470.05,419.49 L470.30,418.73 L470.55,418.05 L470.80,417.45 L471.05,416.97 L471.30,416.61 L471.55,416.39 L471.80,416.33 L472.05,416.44 L472.30,416.72 L472.55,417.19 L472.80,417.83 L473.05,418.66 L473.30,419.66 L473.55,420.83 L473.80,422.15 L474.05,423.61 L474.30,425.18 L474.55,426.83 L474.80,428.55 L475.05,430.29 L475.30,432.04 L475.55,433.74 L475.80,435.38 L476.05,436.91 L476.30,438.30 L476.55,439.52 L476.80,440.53 L477.05,441.32 L477.30,441.86 L477.55,442.12 L477.80,442.10 L478.05,441.78 L478.30,441.16 L478.55,440.25 L478.80,439.05 L479.05,437.58 L479.30,435.85 L479.55,433.90 L479.80,431.75 L480.05,429.44 L480.30,427.00 L480.55,424.49 L480.80,421.93 L481.05,419.39 L481.30,416.90 L481.55,414.52 L481.80,412.28 L482.05,410.23 L482.30,408.41 L482.55,406.86 L482.80,405.60 L483.05,404.67 L483.30,404.08 L483.55,403.85 L483.80,403.98 L484.05,404.48 L484.30,405.35 L484.55,406.56 L484.80,408.11 L485.05,409.96 L485.30,412.09 L485.55,414.46 L485.80,417.03 L486.05,419.76 L486.30,422.60 L486.55,425.50 L486.80,428.42 L487.05,431.30 L487.30,434.09 L487.55,436.75 L487.80,439.23 L488.05,441.48 L488.30,443.47 L488.55,445.17 L488.80,446.54 L489.05,447.56 L489.30,448.21 L489.55,448.49 L489.80,448.38 L490.05,447.89 L490.30,447.02 L490.55,445.79 L490.80,444.23 L491.05,442.36 L491.30,440.21 L491.55,437.81 L491.80,435.21 L492.05,432.46 L492.30,429.60 L492.55,426.67 L492.80,423.74 L493.05,420.85 L493.30,418.04 L493.55,415.38 L493.80,412.89 L494.05,410.63 L494.30,408.63 L494.55,406.92 L494.80,405.54 L495.05,404.50 L495.30,403.82 L495.55,403.51 L495.80,403.58 L496.05,404.01 L496.30,404.80 L496.55,405.93 L496.80,407.37 L497.05,409.11 L497.30,411.09 L497.55,413.30 L497.80,415.68 L498.05,418.18 L498.30,420.78 L498.55,423.40 L498.80,426.02 L499.05,428.58 L499.30,431.04 L499.55,433.35 L499.80,435.48 L500.05,437.39 L500.30,439.06 L500.55,440.45 L500.80,441.55 L501.05,442.35 L501.30,442.85 L501.55,443.03 L501.80,442.90 L502.05,442.48 L502.30,441.79 L502.55,440.83 L502.80,439.65 L503.05,438.27 L503.30,436.71 L503.55,435.03 L503.80,433.24 L504.05,431.40 L504.30,429.53 L504.55,427.67 L504.80,425.85 L505.05,424.12 L505.30,422.48 L505.55,420.98 L505.80,419.63 L506.05,418.45 L506.30,417.45 L506.55,416.65 L506.80,416.04 L507.05,415.63 L507.30,415.42 L507.55,415.40 L507.80,415.55 L508.05,415.87 L508.30,416.34 L508.55,416.94 L508.80,417.65 L509.05,418.46 L509.30,419.33 L509.55,420.26 L509.80,421.22 L510.05,422.19 L510.30,423.15 L510.55,424.09 L510.80,424.99 L511.05,425.83 L511.30,426.61 L511.55,427.32 L511.80,427.95 L512.05,428.49 L512.30,428.94 L512.55,429.30 L512.80,429.58 L513.05,429.76 L513.30,429.86 L513.55,429.88 L513.80,429.83 L514.05,429.70 L514.30,429.52 L514.55,429.28 L514.80,429.00 L515.05,428.67 L515.30,428.32 L515.55,427.93 L515.80,427.54 L516.05,427.13 L516.30,426.71 L516.55,426.30 L516.80,425.89 L517.05,425.50 L517.30,425.12 L517.55,424.77 L517.80,424.44 L518.05,424.13 L518.30,423.86 L518.55,423.62 L518.80,423.42 L519.05,423.25 L519.30,423.12 L519.55,423.03 L519.80,422.98 L520.05,422.97 L520.30,422.99 L520.55,423.06 L520.80,423.16 L521.05,423.29 L521.30,423.46 L521.55,423.66 L521.80,423.89 L522.05,424.15 L522.30,424.43 L522.55,424.73 L522.80,425.04 L523.05,425.37 L523.30,425.70 L523.55,426.04 L523.80,426.38 L524.05,426.72 L524.30,427.04 L524.55,427.36 L524.80,427.65 L525.05,427.92 L525.30,428.17 L525.55,428.38 L525.80,428.56 L526.05,428.69 L526.30,428.78 L526.55,428.82 L526.80,428.80 L527.05,428.73 L527.30,428.60 L527.55,428.41 L527.80,428.16 L528.05,427.84 L528.30,427.46 L528.55,427.02 L528.80,426.53 L529.05,425.98 L529.30,425.38 L529.55,424.74 L529.80,424.06 L530.05,423.36 L530.30,422.65 L530.55,421.94 L530.80,421.25 L531.05,420.57 L531.30,419.94 L531.55,419.37 L531.80,418.87 L532.05,418.46 L532.30,418.14 L532.55,417.95 L532.80,417.88 L533.05,417.95 L533.30,418.16 L533.55,418.53 L533.80,419.05 L534.05,419.73 L534.30,420.56 L534.55,421.54 L534.80,422.65 L535.05,423.88 L535.30,425.22 L535.55,426.65 L535.80,428.13 L536.05,429.66 L536.30,431.19 L536.55,432.70 L536.80,434.16 L537.05,435.54 L537.30,436.80 L537.55,437.92 L537.80,438.87 L538.05,439.62 L538.30,440.15 L538.55,440.44 L538.80,440.47 L539.05,440.23 L539.30,439.72 L539.55,438.94 L539.80,437.89 L540.05,436.58 L540.30,435.03 L540.55,433.26 L540.80,431.29 L541.05,429.16 L541.30,426.90 L541.55,424.55 L541.80,422.16 L542.05,419.76 L542.30,417.40 L542.55,415.12 L542.80,412.97 L543.05,410.99 L543.30,409.22 L543.55,407.70 L543.80,406.45 L544.05,405.51 L544.30,404.90 L544.55,404.64 L544.80,404.72 L545.05,405.16 L545.30,405.96 L545.55,407.10 L545.80,408.57 L546.05,410.35 L546.30,412.40 L546.55,414.70 L546.80,417.20 L547.05,419.86 L547.30,422.65 L547.55,425.50 L547.80,428.37 L548.05,431.22 L548.30,433.98 L548.55,436.62 L548.80,439.09 L549.05,441.33 L549.30,443.33 L549.55,445.03 L549.80,446.41 L550.05,447.44 L550.30,448.11 L550.55,448.40 L550.80,448.31 L551.05,447.84 L551.30,446.99 L551.55,445.78 L551.80,444.24 L552.05,442.38 L552.30,440.23 L552.55,437.84 L552.80,435.25 L553.05,432.49 L553.30,429.62 L553.55,426.68 L553.80,423.73 L554.05,420.81 L554.30,417.98 L554.55,415.27 L554.80,412.75 L555.05,410.44 L555.30,408.40 L555.55,406.65 L555.80,405.22 L556.05,404.13 L556.30,403.41 L556.55,403.06 L556.80,403.09 L557.05,403.50 L557.30,404.27 L557.55,405.39 L557.80,406.85 L558.05,408.60 L558.30,410.62 L558.55,412.87 L558.80,415.31 L559.05,417.89 L559.30,420.58 L559.55,423.31 L559.80,426.04 L560.05,428.73 L560.30,431.32 L560.55,433.78 L560.80,436.05 L561.05,438.11 L561.30,439.92 L561.55,441.44 L561.80,442.67 L562.05,443.58 L562.30,444.16 L562.55,444.41 L562.80,444.34 L563.05,443.94 L563.30,443.24 L563.55,442.26 L563.80,441.02 L564.05,439.55 L564.30,437.88 L564.55,436.06 L564.80,434.11 L565.05,432.08 L565.30,430.01 L565.55,427.94 L565.80,425.90 L566.05,423.93 L566.30,422.07 L566.55,420.35 L566.80,418.78 L567.05,417.40 L567.30,416.23 L567.55,415.26 L567.80,414.52 L568.05,414.01 L568.30,413.72 L568.55,413.65 L568.80,413.80 L569.05,414.13 L569.30,414.65 L569.55,415.33 L569.80,416.15 L570.05,417.08 L570.30,418.11 L570.55,419.20 L570.80,420.34 L571.05,421.50 L571.30,422.65 L571.55,423.79 L571.80,424.87 L572.05,425.90 L572.30,426.86 L572.55,427.72 L572.80,428.49 L573.05,429.15 L573.30,429.71 L573.55,430.15 L573.80,430.48 L574.05,430.71 L574.30,430.82 L574.55,430.84 L574.80,430.77 L575.05,430.61 L575.30,430.37 L575.55,430.07 L575.80,429.71 L576.05,429.31 L576.30,428.87 L576.55,428.40 L576.80,427.91 L577.05,427.42 L577.30,426.92 L577.55,426.43 L577.80,425.96 L578.05,425.50 L578.30,425.07 L578.55,424.67 L578.80,424.30 L579.05,423.97 L579.30,423.68 L579.55,423.43 L579.80,423.22 L580.05,423.05 L580.30,422.93 L580.55,422.85 L580.80,422.82 L581.05,422.82 L581.30,422.87 L581.55,422.96 L581.80,423.08 L582.05,423.24 L582.30,423.43 L582.55,423.64 L582.80,423.89 L583.05,424.15 L583.30,424.44 L583.55,424.74 L583.80,425.05 L584.05,425.37 L584.30,425.69 L584.55,426.02 L584.80,426.33 L585.05,426.64 L585.30,426.94 L585.55,427.22 L585.80,427.48 L586.05,427.71 L586.30,427.91 L586.55,428.09 L586.80,428.22 L587.05,428.32 L587.30,428.38 L587.55,428.40 L587.80,428.37 L588.05,428.29 L588.30,428.16 L588.55,427.98 L588.80,427.75 L589.05,427.48 L589.30,427.15 L589.55,426.77 L589.80,426.36 L590.05,425.89 L590.30,425.40 L590.55,424.87 L590.80,424.32 L591.05,423.75 L591.30,423.17 L591.55,422.59 L591.80,422.02 L592.05,421.47 L592.30,420.96 L592.55,420.49 L592.80,420.08 L593.05,419.73 L593.30,419.47 L593.55,419.30 L593.80,419.24 L594.05,419.28 L594.30,419.45 L594.55,419.74 L594.80,420.16 L595.05,420.71 L595.30,421.39 L595.55,422.19 L595.80,423.11 L596.05,424.14 L596.30,425.27 L596.55,426.47 L596.80,427.73 L597.05,429.04 L597.30,430.36 L597.55,431.67 L597.80,432.94 L598.05,434.16 L598.30,435.28 L598.55,436.29 L598.80,437.15 L599.05,437.85 L599.30,438.36 L599.55,438.66 L599.80,438.74 L600.05,438.58 L600.30,438.17 L600.55,437.51 L600.80,436.61 L601.05,435.47 L601.30,434.11 L601.55,432.53 L601.80,430.76 L602.05,428.84 L602.30,426.78 L602.55,424.63 L602.80,422.42 L603.05,420.19 L603.30,417.99 L603.55,415.85 L603.80,413.81 L604.05,411.93 L604.30,410.23 L604.55,408.75 L604.80,407.53 L605.05,406.59 L605.30,405.96 L605.55,405.66 L605.80,405.69 L606.05,406.06 L606.30,406.78 L606.55,407.84 L606.80,409.21 L607.05,410.89 L607.30,412.84 L607.55,415.04 L607.80,417.45 L608.05,420.02 L608.30,422.72 L608.55,425.50 L608.80,428.31 L609.05,431.10 L609.30,433.81 L609.55,436.42 L609.80,438.86 L610.05,441.09 L610.30,443.07 L610.55,444.77 L610.80,446.16 L611.05,447.20 L611.30,447.89 L611.55,448.20 L611.80,448.13 L612.05,447.68 L612.30,446.86 L612.55,445.68 L612.80,444.16 L613.05,442.32 L613.30,440.20 L613.55,437.82 L613.80,435.24 L614.05,432.49 L614.30,429.62 L614.55,426.68 L614.80,423.72 L615.05,420.80 L615.30,417.95 L615.55,415.22 L615.80,412.67 L616.05,410.34 L616.30,408.27 L616.55,406.48 L616.80,405.02 L617.05,403.91 L617.30,403.15 L617.55,402.77 L617.80,402.78 L618.05,403.16 L618.30,403.92 L618.55,405.03 L618.80,406.48 L619.05,408.24 L619.30,410.28 L619.55,412.56 L619.80,415.04 L620.05,417.68 L620.30,420.43 L620.55,423.24 L620.80,426.06 L621.05,428.85 L621.30,431.55 L621.55,434.11 L621.80,436.50 L622.05,438.68 L622.30,440.60 L622.55,442.25 L622.80,443.58 L623.05,444.59 L623.30,445.25 L623.55,445.58 L623.80,445.55 L624.05,445.19 L624.30,444.50 L624.55,443.50 L624.80,442.22 L625.05,440.68 L625.30,438.92 L625.55,436.98 L625.80,434.89 L626.05,432.70 L626.30,430.45 L626.55,428.19 L626.80,425.94 L627.05,423.76 L627.30,421.68 L627.55,419.74 L627.80,417.97 L628.05,416.39 L628.30,415.03 L628.55,413.90 L628.80,413.02 L629.05,412.39 L629.30,412.01 L629.55,411.88 L629.80,411.99 L630.05,412.34 L630.30,412.89 L630.55,413.64 L630.80,414.56 L631.05,415.62 L631.30,416.79 L631.55,418.06 L631.80,419.38 L632.05,420.74 L632.30,422.11 L632.55,423.45 L632.80,424.75 L633.05,425.98 L633.30,427.14 L633.55,428.19 L633.80,429.12 L634.05,429.94 L634.30,430.62 L634.55,431.17 L634.80,431.58 L635.05,431.86 L635.30,432.01 L635.55,432.03 L635.80,431.94 L636.05,431.75 L636.30,431.46 L636.55,431.08 L636.80,430.64 L637.05,430.14 L637.30,429.59 L637.55,429.02 L637.80,428.42 L638.05,427.81 L638.30,427.21 L638.55,426.62 L638.80,426.04 L639.05,425.50 L639.30,424.99 L639.55,424.52 L639.80,424.10 L640.05,423.72 L640.30,423.39 L640.55,423.12 L640.80,422.90 L641.05,422.73 L641.30,422.61 L641.55,422.54 L641.80,422.53 L642.05,422.56 L642.30,422.63 L642.55,422.74 L642.80,422.90 L643.05,423.08 L643.30,423.30 L643.55,423.55 L643.80,423.82 L644.05,424.10 L644.30,424.41 L644.55,424.72 L644.80,425.05 L645.05,425.37 L645.30,425.69 L645.55,426.01 L645.80,426.32 L646.05,426.62 L646.30,426.90 L646.55,427.16 L646.80,427.39 L647.05,427.60 L647.30,427.78 L647.55,427.92 L647.80,428.03 L648.05,428.10 L648.30,428.14 L648.55,428.13 L648.80,428.09 L649.05,428.00 L649.30,427.87 L649.55,427.69 L649.80,427.48 L650.05,427.22 L650.30,426.93 L650.55,426.60 L650.80,426.23 L651.05,425.84 L651.30,425.41 L651.55,424.97 L651.80,424.51 L652.05,424.04 L652.30,423.56 L652.55,423.09 L652.80,422.62 L653.05,422.18 L653.30,421.76 L653.55,421.39 L653.80,421.06 L654.05,420.78 L654.30,420.57 L654.55,420.43 L654.80,420.38 L655.05,420.42 L655.30,420.55 L655.55,420.78 L655.80,421.12 L656.05,421.57 L656.30,422.12 L656.55,422.77 L656.80,423.53 L657.05,424.38 L657.30,425.31 L657.55,426.30 L657.80,427.36 L658.05,428.45 L658.30,429.57 L658.55,430.68 L658.80,431.78 L659.05,432.82 L659.30,433.80 L659.55,434.69 L659.80,435.46 L660.05,436.09 L660.30,436.57 L660.55,436.87 L660.80,436.97 L661.05,436.87 L661.30,436.56 L661.55,436.02 L661.80,435.27 L662.05,434.30 L662.30,433.12 L662.55,431.75 L662.80,430.19 L663.05,428.49 L663.30,426.65 L663.55,424.72 L663.80,422.71 L664.05,420.68 L664.30,418.66 L664.55,416.68 L664.80,414.79 L665.05,413.02 L665.30,411.41 L665.55,410.00 L665.80,408.81 L666.05,407.89 L666.30,407.25 L666.55,406.91 L666.80,406.89 L667.05,407.19 L667.30,407.82 L667.55,408.77 L667.80,410.03 L668.05,411.59 L668.30,413.42 L668.55,415.49 L668.80,417.78 L669.05,420.24 L669.30,422.82 L669.55,425.50 L669.80,428.22 L670.05,430.92 L670.30,433.57 L670.55,436.12 L670.80,438.51 L671.05,440.71 L671.30,442.68 L671.55,444.37 L671.80,445.76 L672.05,446.81 L672.30,447.52 L672.55,447.86 L672.80,447.82 L673.05,447.40 L673.30,446.62 L673.55,445.47 L673.80,443.98 L674.05,442.18 L674.30,440.09 L674.55,437.74 L674.80,435.18 L675.05,432.46 L675.30,429.61 L675.55,426.68 L675.80,423.73 L676.05,420.80 L676.30,417.95 L676.55,415.22 L676.80,412.66 L677.05,410.32 L677.30,408.22 L677.55,406.42 L677.80,404.94 L678.05,403.79 L678.30,403.02 L678.55,402.62 L678.80,402.60 L679.05,402.96 L679.30,403.70 L679.55,404.80 L679.80,406.25 L680.05,408.01 L680.30,410.06 L680.55,412.35 L680.80,414.86 L681.05,417.54 L681.30,420.33 L681.55,423.19 L681.80,426.08 L682.05,428.93 L682.30,431.71 L682.55,434.36 L682.80,436.84 L683.05,439.11 L683.30,441.13 L683.55,442.86 L683.80,444.29 L684.05,445.38 L684.30,446.12 L684.55,446.50 L684.80,446.53 L685.05,446.20 L685.30,445.52 L685.55,444.52 L685.80,443.21 L686.05,441.63 L686.30,439.80 L686.55,437.77 L686.80,435.57 L687.05,433.25 L687.30,430.84 L687.55,428.41 L687.80,425.98 L688.05,423.61 L688.30,421.33 L688.55,419.19 L688.80,417.22 L689.05,415.45 L689.30,413.91 L689.55,412.61 L689.80,411.58 L690.05,410.83 L690.30,410.35 L690.55,410.15 L690.80,410.23 L691.05,410.56 L691.30,411.14 L691.55,411.94 L691.80,412.95 L692.05,414.12 L692.30,415.44 L692.55,416.87 L692.80,418.38 L693.05,419.94 L693.30,421.52 L693.55,423.09 L693.80,424.62 L694.05,426.07 L694.30,427.44 L694.55,428.70 L694.80,429.83 L695.05,430.81 L695.30,431.65 L695.55,432.32 L695.80,432.84 L696.05,433.19 L696.30,433.39 L696.55,433.44 L696.80,433.34 L697.05,433.11 L697.30,432.77 L697.55,432.32 L697.80,431.78 L698.05,431.17 L698.30,430.51 L698.55,429.80 L698.80,429.07 L699.05,428.32 L699.30,427.58 L699.55,426.86 L699.80,426.16 L700.05,425.50 L700.30,424.88 L700.55,424.32 L700.80,423.82 L701.05,423.37 L701.30,422.99 L701.55,422.68 L701.80,422.43 L702.05,422.25 L702.30,422.13 L702.55,422.07 L702.80,422.07 L703.05,422.13 L703.30,422.23 L703.55,422.39 L703.80,422.58 L704.05,422.81 L704.30,423.07 L704.55,423.36 L704.80,423.66 L705.05,423.99 L705.30,424.33 L705.55,424.67 L705.80,425.02 L706.05,425.36 L706.30,425.70 L706.55,426.03 L706.80,426.34 L707.05,426.64 L707.30,426.91 L707.55,427.16 L707.80,427.38" fill="none" stroke="#db5a5e" stroke-width="2.2"/>
<path d="M457.80,605.70 L458.30,605.60 L458.80,605.45 L459.30,605.24 L459.80,604.98 L460.30,604.67 L460.80,604.30 L461.30,603.89 L461.80,603.43 L462.30,602.92 L462.80,602.36 L463.30,601.76 L463.80,601.12 L464.30,600.43 L464.80,599.70 L465.30,598.94 L465.80,598.13 L466.30,597.29 L466.80,596.42 L467.30,595.52 L467.80,594.59 L468.30,593.64 L468.80,592.66 L469.30,591.66 L469.80,590.65 L470.30,589.62 L470.80,588.57 L471.30,587.51 L471.80,586.45 L472.30,585.38 L472.80,584.31 L473.30,583.24 L473.80,582.17 L474.30,581.11 L474.80,580.05 L475.30,579.01 L475.80,577.98 L476.30,576.96 L476.80,575.97 L477.30,575.00 L477.80,574.05 L478.30,573.12 L478.80,572.23 L479.30,571.36 L479.80,570.53 L480.30,569.73 L480.80,568.97 L481.30,568.25 L481.80,567.57 L482.30,566.93 L482.80,566.34 L483.30,565.79 L483.80,565.29 L484.30,564.83 L484.80,564.43 L485.30,564.08 L485.80,563.77 L486.30,563.52 L486.80,563.32 L487.30,563.18 L487.80,563.09 L488.30,563.05 L488.80,563.07 L489.30,563.14 L489.80,563.26 L490.30,563.44 L490.80,563.67 L491.30,563.95 L491.80,564.28 L492.30,564.67 L492.80,565.10 L493.30,565.58 L493.80,566.11 L494.30,566.69 L494.80,567.31 L495.30,567.97 L495.80,568.68 L496.30,569.42 L496.80,570.21 L497.30,571.02 L497.80,571.88 L498.30,572.76 L498.80,573.67 L499.30,574.61 L499.80,575.58 L500.30,576.56 L500.80,577.57 L501.30,578.59 L501.80,579.63 L502.30,580.68 L502.80,581.74 L503.30,582.81 L503.80,583.88 L504.30,584.95 L504.80,586.02 L505.30,587.09 L505.80,588.15 L506.30,589.20 L506.80,590.24 L507.30,591.26 L507.80,592.27 L508.30,593.25 L508.80,594.22 L509.30,595.16 L509.80,596.07 L510.30,596.95 L510.80,597.80 L511.30,598.62 L511.80,599.40 L512.30,600.14 L512.80,600.85 L513.30,601.51 L513.80,602.13 L514.30,602.70 L514.80,603.23 L515.30,603.71 L515.80,604.15 L516.30,604.53 L516.80,604.86 L517.30,605.14 L517.80,605.37 L518.30,605.54 L518.80,605.67 L519.30,605.73 L519.80,605.75 L520.30,605.71 L520.80,605.62 L521.30,605.47 L521.80,605.27 L522.30,605.02 L522.80,604.71 L523.30,604.36 L523.80,603.95 L524.30,603.50 L524.80,603.00 L525.30,602.45 L525.80,601.85 L526.30,601.21 L526.80,600.53 L527.30,599.81 L527.80,599.04 L528.30,598.25 L528.80,597.41 L529.30,596.55 L529.80,595.65 L530.30,594.73 L530.80,593.78 L531.30,592.80 L531.80,591.81 L532.30,590.79 L532.80,589.76 L533.30,588.72 L533.80,587.66 L534.30,586.60 L534.80,585.53 L535.30,584.46 L535.80,583.39 L536.30,582.32 L536.80,581.25 L537.30,580.20 L537.80,579.15 L538.30,578.12 L538.80,577.11 L539.30,576.11 L539.80,575.13 L540.30,574.18 L540.80,573.25 L541.30,572.35 L541.80,571.48 L542.30,570.64 L542.80,569.84 L543.30,569.08 L543.80,568.35 L544.30,567.66 L544.80,567.02 L545.30,566.42 L545.80,565.86 L546.30,565.35 L546.80,564.89 L547.30,564.48 L547.80,564.12 L548.30,563.81 L548.80,563.55 L549.30,563.35 L549.80,563.20 L550.30,563.10 L550.80,563.05 L551.30,563.06 L551.80,563.12 L552.30,563.24 L552.80,563.41 L553.30,563.63 L553.80,563.91 L554.30,564.23 L554.80,564.61 L555.30,565.04 L555.80,565.51 L556.30,566.04 L556.80,566.61 L557.30,567.22 L557.80,567.88 L558.30,568.58 L558.80,569.32 L559.30,570.09 L559.80,570.91 L560.30,571.75 L560.80,572.63 L561.30,573.54 L561.80,574.48 L562.30,575.44 L562.80,576.42 L563.30,577.43 L563.80,578.45 L564.30,579.49 L564.80,580.54 L565.30,581.59 L565.80,582.66 L566.30,583.73 L566.80,584.80 L567.30,585.87 L567.80,586.94 L568.30,588.00 L568.80,589.05 L569.30,590.09 L569.80,591.12 L570.30,592.13 L570.80,593.12 L571.30,594.08 L571.80,595.03 L572.30,595.94 L572.80,596.83 L573.30,597.68 L573.80,598.51 L574.30,599.29 L574.80,600.04 L575.30,600.75 L575.80,601.42 L576.30,602.05 L576.80,602.63 L577.30,603.16 L577.80,603.65 L578.30,604.09 L578.80,604.48 L579.30,604.82 L579.80,605.10 L580.30,605.34 L580.80,605.52 L581.30,605.65 L581.80,605.73 L582.30,605.75 L582.80,605.72 L583.30,605.63 L583.80,605.49 L584.30,605.30 L584.80,605.06 L585.30,604.76 L585.80,604.41 L586.30,604.01 L586.80,603.56 L587.30,603.07 L587.80,602.52 L588.30,601.94 L588.80,601.30 L589.30,600.63 L589.80,599.91 L590.30,599.15 L590.80,598.36 L591.30,597.53 L591.80,596.67 L592.30,595.78 L592.80,594.86 L593.30,593.91 L593.80,592.94 L594.30,591.95 L594.80,590.93 L595.30,589.91 L595.80,588.86 L596.30,587.81 L596.80,586.75 L597.30,585.68 L597.80,584.61 L598.30,583.54 L598.80,582.47 L599.30,581.40 L599.80,580.35 L600.30,579.30 L600.80,578.26 L601.30,577.25 L601.80,576.25 L602.30,575.27 L602.80,574.31 L603.30,573.38 L603.80,572.47 L604.30,571.60 L604.80,570.76 L605.30,569.95 L605.80,569.18 L606.30,568.45 L606.80,567.76 L607.30,567.11 L607.80,566.50 L608.30,565.94 L608.80,565.42 L609.30,564.96 L609.80,564.54 L610.30,564.17 L610.80,563.85 L611.30,563.59 L611.80,563.38 L612.30,563.22 L612.80,563.11 L613.30,563.06 L613.80,563.06 L614.30,563.11 L614.80,563.22 L615.30,563.38 L615.80,563.60 L616.30,563.86 L616.80,564.18 L617.30,564.55 L617.80,564.97 L618.30,565.44 L618.80,565.96 L619.30,566.52 L619.80,567.13 L620.30,567.78 L620.80,568.48 L621.30,569.21 L621.80,569.98 L622.30,570.79 L622.80,571.63 L623.30,572.51 L623.80,573.41 L624.30,574.35 L624.80,575.30 L625.30,576.29 L625.80,577.29 L626.30,578.31 L626.80,579.34 L627.30,580.39 L627.80,581.45 L628.30,582.51 L628.80,583.58 L629.30,584.65 L629.80,585.72 L630.30,586.79 L630.80,587.85 L631.30,588.91 L631.80,589.95 L632.30,590.98 L632.80,591.99 L633.30,592.98 L633.80,593.95 L634.30,594.90 L634.80,595.81 L635.30,596.71 L635.80,597.57 L636.30,598.39 L636.80,599.18 L637.30,599.94 L637.80,600.65 L638.30,601.33 L638.80,601.96 L639.30,602.55 L639.80,603.09 L640.30,603.58 L640.80,604.03 L641.30,604.43 L641.80,604.77 L642.30,605.07 L642.80,605.31 L643.30,605.50 L643.80,605.64 L644.30,605.72 L644.80,605.75 L645.30,605.73 L645.80,605.65 L646.30,605.52 L646.80,605.33 L647.30,605.09 L647.80,604.80 L648.30,604.46 L648.80,604.07 L649.30,603.63 L649.80,603.14 L650.30,602.60 L650.80,602.02 L651.30,601.39 L651.80,600.72 L652.30,600.01 L652.80,599.26 L653.30,598.47 L653.80,597.65 L654.30,596.79 L654.80,595.91 L655.30,594.99 L655.80,594.04 L656.30,593.08 L656.80,592.09 L657.30,591.08 L657.80,590.05 L658.30,589.01 L658.80,587.96 L659.30,586.90 L659.80,585.83 L660.30,584.76 L660.80,583.69 L661.30,582.62 L661.80,581.55 L662.30,580.49 L662.80,579.44 L663.30,578.41 L663.80,577.39 L664.30,576.38 L664.80,575.40 L665.30,574.44 L665.80,573.51 L666.30,572.60 L666.80,571.72 L667.30,570.87 L667.80,570.06 L668.30,569.29 L668.80,568.55 L669.30,567.85 L669.80,567.19 L670.30,566.58 L670.80,566.01 L671.30,565.49 L671.80,565.02 L672.30,564.59 L672.80,564.22 L673.30,563.89 L673.80,563.62 L674.30,563.40 L674.80,563.23 L675.30,563.12 L675.80,563.06 L676.30,563.05 L676.80,563.10 L677.30,563.20 L677.80,563.36 L678.30,563.56 L678.80,563.82 L679.30,564.14 L679.80,564.50 L680.30,564.91 L680.80,565.37 L681.30,565.88 L681.80,566.44 L682.30,567.04 L682.80,567.69 L683.30,568.38 L683.80,569.11 L684.30,569.87 L684.80,570.68 L685.30,571.51 L685.80,572.38 L686.30,573.29 L686.80,574.21 L687.30,575.17 L687.80,576.15 L688.30,577.15 L688.80,578.16 L689.30,579.19 L689.80,580.24 L690.30,581.30 L690.80,582.36 L691.30,583.43 L691.80,584.50 L692.30,585.57 L692.80,586.64 L693.30,587.70 L693.80,588.76 L694.30,589.80 L694.80,590.83 L695.30,591.85 L695.80,592.84 L696.30,593.81 L696.80,594.76 L697.30,595.69 L697.80,596.58 L698.30,597.45 L698.80,598.28 L699.30,599.08 L699.80,599.84 L700.30,600.56 L700.80,601.24 L701.30,601.87 L701.80,602.47 L702.30,603.02 L702.80,603.52 L703.30,603.97 L703.80,604.37 L704.30,604.73 L704.80,605.03 L705.30,605.28 L705.80,605.48 L706.30,605.62 L706.80,605.71" fill="none" stroke="#4b91d1" stroke-width="2.3"/>
<path d="M457.80,584.95 L458.05,584.96 L458.30,585.00 L458.55,585.07 L458.80,585.18 L459.05,585.31 L459.30,585.48 L459.55,585.67 L459.80,585.89 L460.05,586.14 L460.30,586.41 L460.55,586.69 L460.80,587.00 L461.05,587.31 L461.30,587.64 L461.55,587.97 L461.80,588.31 L462.05,588.63 L462.30,588.96 L462.55,589.26 L462.80,589.55 L463.05,589.81 L463.30,590.04 L463.55,590.24 L463.80,590.39 L464.05,590.50 L464.30,590.55 L464.55,590.54 L464.80,590.47 L465.05,590.34 L465.30,590.14 L465.55,589.86 L465.80,589.51 L466.05,589.10 L466.30,588.61 L466.55,588.06 L466.80,587.45 L467.05,586.79 L467.30,586.08 L467.55,585.34 L467.80,584.57 L468.05,583.80 L468.30,583.03 L468.55,582.28 L468.80,581.56 L469.05,580.90 L469.30,580.31 L469.55,579.80 L469.80,579.40 L470.05,579.11 L470.30,578.95 L470.55,578.93 L470.80,579.06 L471.05,579.35 L471.30,579.80 L471.55,580.41 L471.80,581.18 L472.05,582.10 L472.30,583.16 L472.55,584.35 L472.80,585.66 L473.05,587.06 L473.30,588.53 L473.55,590.04 L473.80,591.58 L474.05,593.10 L474.30,594.58 L474.55,595.99 L474.80,597.30 L475.05,598.48 L475.30,599.50 L475.55,600.34 L475.80,600.97 L476.05,601.38 L476.30,601.55 L476.55,601.47 L476.80,601.13 L477.05,600.53 L477.30,599.68 L477.55,598.58 L477.80,597.25 L478.05,595.71 L478.30,593.97 L478.55,592.08 L478.80,590.05 L479.05,587.93 L479.30,585.75 L479.55,583.54 L479.80,581.36 L480.05,579.23 L480.30,577.20 L480.55,575.31 L480.80,573.59 L481.05,572.08 L481.30,570.80 L481.55,569.78 L481.80,569.05 L482.05,568.61 L482.30,568.48 L482.55,568.67 L482.80,569.17 L483.05,569.98 L483.30,571.08 L483.55,572.47 L483.80,574.10 L484.05,575.97 L484.30,578.04 L484.55,580.27 L484.80,582.63 L485.05,585.07 L485.30,587.56 L485.55,590.05 L485.80,592.49 L486.05,594.86 L486.30,597.10 L486.55,599.18 L486.80,601.06 L487.05,602.70 L487.30,604.09 L487.55,605.20 L487.80,606.01 L488.05,606.50 L488.30,606.66 L488.55,606.50 L488.80,606.01 L489.05,605.21 L489.30,604.10 L489.55,602.71 L489.80,601.07 L490.05,599.19 L490.30,597.11 L490.55,594.87 L490.80,592.50 L491.05,590.05 L491.30,587.56 L491.55,585.07 L491.80,582.62 L492.05,580.26 L492.30,578.02 L492.55,575.95 L492.80,574.07 L493.05,572.42 L493.30,571.03 L493.55,569.92 L493.80,569.11 L494.05,568.60 L494.30,568.41 L494.55,568.53 L494.80,568.97 L495.05,569.70 L495.30,570.72 L495.55,572.00 L495.80,573.52 L496.05,575.24 L496.30,577.14 L496.55,579.18 L496.80,581.32 L497.05,583.52 L497.30,585.74 L497.55,587.94 L497.80,590.08 L498.05,592.12 L498.30,594.04 L498.55,595.79 L498.80,597.35 L499.05,598.70 L499.30,599.82 L499.55,600.69 L499.80,601.30 L500.05,601.65 L500.30,601.74 L500.55,601.57 L500.80,601.17 L501.05,600.53 L501.30,599.69 L501.55,598.66 L501.80,597.46 L502.05,596.14 L502.30,594.71 L502.55,593.20 L502.80,591.66 L503.05,590.10 L503.30,588.56 L503.55,587.06 L503.80,585.63 L504.05,584.30 L504.30,583.08 L504.55,581.99 L504.80,581.05 L505.05,580.26 L505.30,579.63 L505.55,579.17 L505.80,578.87 L506.05,578.73 L506.30,578.74 L506.55,578.90 L506.80,579.20 L507.05,579.61 L507.30,580.13 L507.55,580.73 L507.80,581.41 L508.05,582.14 L508.30,582.91 L508.55,583.71 L508.80,584.50 L509.05,585.29 L509.30,586.05 L509.55,586.78 L509.80,587.46 L510.05,588.09 L510.30,588.66 L510.55,589.16 L510.80,589.59 L511.05,589.94 L511.30,590.22 L511.55,590.43 L511.80,590.57 L512.05,590.64 L512.30,590.64 L512.55,590.59 L512.80,590.48 L513.05,590.32 L513.30,590.12 L513.55,589.88 L513.80,589.61 L514.05,589.31 L514.30,589.00 L514.55,588.67 L514.80,588.33 L515.05,587.99 L515.30,587.65 L515.55,587.32 L515.80,587.00 L516.05,586.69 L516.30,586.40 L516.55,586.13 L516.80,585.88 L517.05,585.66 L517.30,585.46 L517.55,585.30 L517.80,585.16 L518.05,585.06 L518.30,584.99 L518.55,584.95 L518.80,584.94 L519.05,584.97 L519.30,585.03 L519.55,585.11 L519.80,585.23 L520.05,585.38 L520.30,585.55 L520.55,585.75 L520.80,585.96 L521.05,586.20 L521.30,586.46 L521.55,586.72 L521.80,587.00 L522.05,587.29 L522.30,587.58 L522.55,587.87 L522.80,588.15 L523.05,588.43 L523.30,588.70 L523.55,588.95 L523.80,589.18 L524.05,589.39 L524.30,589.57 L524.55,589.71 L524.80,589.83 L525.05,589.90 L525.30,589.92 L525.55,589.91 L525.80,589.84 L526.05,589.72 L526.30,589.54 L526.55,589.31 L526.80,589.03 L527.05,588.69 L527.30,588.30 L527.55,587.86 L527.80,587.37 L528.05,586.84 L528.30,586.28 L528.55,585.69 L528.80,585.08 L529.05,584.46 L529.30,583.84 L529.55,583.23 L529.80,582.65 L530.05,582.11 L530.30,581.63 L530.55,581.20 L530.80,580.86 L531.05,580.61 L531.30,580.46 L531.55,580.42 L531.80,580.51 L532.05,580.73 L532.30,581.07 L532.55,581.56 L532.80,582.18 L533.05,582.92 L533.30,583.80 L533.55,584.79 L533.80,585.88 L534.05,587.06 L534.30,588.31 L534.55,589.61 L534.80,590.93 L535.05,592.25 L535.30,593.55 L535.55,594.80 L535.80,595.97 L536.05,597.04 L536.30,597.98 L536.55,598.76 L536.80,599.37 L537.05,599.78 L537.30,599.98 L537.55,599.95 L537.80,599.70 L538.05,599.21 L538.30,598.48 L538.55,597.52 L538.80,596.35 L539.05,594.97 L539.30,593.41 L539.55,591.68 L539.80,589.82 L540.05,587.86 L540.30,585.84 L540.55,583.78 L540.80,581.72 L541.05,579.71 L541.30,577.78 L541.55,575.96 L541.80,574.30 L542.05,572.83 L542.30,571.57 L542.55,570.56 L542.80,569.82 L543.05,569.36 L543.30,569.19 L543.55,569.33 L543.80,569.78 L544.05,570.52 L544.30,571.56 L544.55,572.87 L544.80,574.44 L545.05,576.24 L545.30,578.25 L545.55,580.42 L545.80,582.72 L546.05,585.11 L546.30,587.55 L546.55,590.00 L546.80,592.42 L547.05,594.76 L547.30,596.98 L547.55,599.05 L547.80,600.93 L548.05,602.58 L548.30,603.97 L548.55,605.09 L548.80,605.91 L549.05,606.42 L549.30,606.60 L549.55,606.45 L549.80,605.98 L550.05,605.20 L550.30,604.11 L550.55,602.73 L550.80,601.10 L551.05,599.22 L551.30,597.15 L551.55,594.91 L551.80,592.53 L552.05,590.07 L552.30,587.56 L552.55,585.05 L552.80,582.58 L553.05,580.18 L553.30,577.91 L553.55,575.79 L553.80,573.87 L554.05,572.18 L554.30,570.74 L554.55,569.59 L554.80,568.73 L555.05,568.18 L555.30,567.95 L555.55,568.04 L555.80,568.45 L556.05,569.17 L556.30,570.18 L556.55,571.47 L556.80,573.01 L557.05,574.78 L557.30,576.73 L557.55,578.83 L557.80,581.05 L558.05,583.34 L558.30,585.67 L558.55,587.98 L558.80,590.25 L559.05,592.43 L559.30,594.49 L559.55,596.38 L559.80,598.08 L560.05,599.57 L560.30,600.81 L560.55,601.80 L560.80,602.51 L561.05,602.94 L561.30,603.10 L561.55,602.98 L561.80,602.59 L562.05,601.94 L562.30,601.06 L562.55,599.96 L562.80,598.68 L563.05,597.24 L563.30,595.67 L563.55,594.01 L563.80,592.28 L564.05,590.52 L564.30,588.77 L564.55,587.06 L564.80,585.41 L565.05,583.86 L565.30,582.43 L565.55,581.14 L565.80,580.01 L566.05,579.06 L566.30,578.28 L566.55,577.70 L566.80,577.31 L567.05,577.10 L567.30,577.08 L567.55,577.24 L567.80,577.56 L568.05,578.03 L568.30,578.62 L568.55,579.34 L568.80,580.14 L569.05,581.02 L569.30,581.95 L569.55,582.91 L569.80,583.89 L570.05,584.86 L570.30,585.81 L570.55,586.71 L570.80,587.56 L571.05,588.35 L571.30,589.06 L571.55,589.69 L571.80,590.23 L572.05,590.68 L572.30,591.03 L572.55,591.29 L572.80,591.46 L573.05,591.54 L573.30,591.53 L573.55,591.46 L573.80,591.31 L574.05,591.10 L574.30,590.84 L574.55,590.53 L574.80,590.18 L575.05,589.80 L575.30,589.41 L575.55,589.00 L575.80,588.58 L576.05,588.17 L576.30,587.76 L576.55,587.36 L576.80,586.99 L577.05,586.63 L577.30,586.30 L577.55,586.00 L577.80,585.73 L578.05,585.49 L578.30,585.28 L578.55,585.12 L578.80,584.99 L579.05,584.89 L579.30,584.83 L579.55,584.81 L579.80,584.82 L580.05,584.87 L580.30,584.95 L580.55,585.05 L580.80,585.19 L581.05,585.35 L581.30,585.54 L581.55,585.75 L581.80,585.98 L582.05,586.22 L582.30,586.47 L582.55,586.74 L582.80,587.01 L583.05,587.28 L583.30,587.55 L583.55,587.81 L583.80,588.07 L584.05,588.32 L584.30,588.55 L584.55,588.76 L584.80,588.96 L585.05,589.13 L585.30,589.27 L585.55,589.38 L585.80,589.46 L586.05,589.50 L586.30,589.51 L586.55,589.47 L586.80,589.40 L587.05,589.28 L587.30,589.12 L587.55,588.92 L587.80,588.68 L588.05,588.40 L588.30,588.07 L588.55,587.71 L588.80,587.31 L589.05,586.89 L589.30,586.43 L589.55,585.96 L589.80,585.47 L590.05,584.98 L590.30,584.49 L590.55,584.01 L590.80,583.55 L591.05,583.12 L591.30,582.73 L591.55,582.39 L591.80,582.11 L592.05,581.90 L592.30,581.77 L592.55,581.73 L592.80,581.79 L593.05,581.95 L593.30,582.22 L593.55,582.60 L593.80,583.09 L594.05,583.69 L594.30,584.39 L594.55,585.20 L594.80,586.09 L595.05,587.06 L595.30,588.10 L595.55,589.18 L595.80,590.29 L596.05,591.42 L596.30,592.53 L596.55,593.61 L596.80,594.63 L597.05,595.57 L597.30,596.40 L597.55,597.11 L597.80,597.67 L598.05,598.07 L598.30,598.29 L598.55,598.32 L598.80,598.14 L599.05,597.75 L599.30,597.15 L599.55,596.34 L599.80,595.33 L600.05,594.13 L600.30,592.75 L600.55,591.22 L600.80,589.56 L601.05,587.79 L601.30,585.95 L601.55,584.06 L601.80,582.16 L602.05,580.29 L602.30,578.49 L602.55,576.78 L602.80,575.20 L603.05,573.79 L603.30,572.57 L603.55,571.58 L603.80,570.83 L604.05,570.35 L604.30,570.15 L604.55,570.23 L604.80,570.61 L605.05,571.28 L605.30,572.23 L605.55,573.46 L605.80,574.93 L606.05,576.64 L606.30,578.55 L606.55,580.63 L606.80,582.85 L607.05,585.16 L607.30,587.54 L607.55,589.93 L607.80,592.30 L608.05,594.59 L608.30,596.79 L608.55,598.83 L608.80,600.69 L609.05,602.34 L609.30,603.73 L609.55,604.86 L609.80,605.69 L610.05,606.21 L610.30,606.41 L610.55,606.29 L610.80,605.85 L611.05,605.08 L611.30,604.02 L611.55,602.67 L611.80,601.05 L612.05,599.19 L612.30,597.13 L612.55,594.90 L612.80,592.53 L613.05,590.08 L613.30,587.56 L613.55,585.04 L613.80,582.56 L614.05,580.15 L614.30,577.85 L614.55,575.72 L614.80,573.77 L615.05,572.05 L615.30,570.58 L615.55,569.39 L615.80,568.50 L616.05,567.92 L616.30,567.66 L616.55,567.73 L616.80,568.12 L617.05,568.82 L617.30,569.83 L617.55,571.12 L617.80,572.67 L618.05,574.45 L618.30,576.44 L618.55,578.58 L618.80,580.85 L619.05,583.21 L619.30,585.61 L619.55,588.02 L619.80,590.38 L620.05,592.67 L620.30,594.83 L620.55,596.84 L620.80,598.65 L621.05,600.25 L621.30,601.60 L621.55,602.69 L621.80,603.49 L622.05,604.01 L622.30,604.22 L622.55,604.15 L622.80,603.78 L623.05,603.14 L623.30,602.24 L623.55,601.10 L623.80,599.75 L624.05,598.21 L624.30,596.53 L624.55,594.72 L624.80,592.84 L625.05,590.91 L625.30,588.97 L625.55,587.06 L625.80,585.21 L626.05,583.45 L626.30,581.82 L626.55,580.33 L626.80,579.01 L627.05,577.88 L627.30,576.95 L627.55,576.24 L627.80,575.74 L628.05,575.45 L628.30,575.38 L628.55,575.52 L628.80,575.85 L629.05,576.36 L629.30,577.03 L629.55,577.84 L629.80,578.77 L630.05,579.79 L630.30,580.89 L630.55,582.04 L630.80,583.21 L631.05,584.38 L631.30,585.52 L631.55,586.63 L631.80,587.68 L632.05,588.65 L632.30,589.54 L632.55,590.32 L632.80,591.00 L633.05,591.57 L633.30,592.02 L633.55,592.35 L633.80,592.56 L634.05,592.67 L634.30,592.67 L634.55,592.58 L634.80,592.39 L635.05,592.12 L635.30,591.79 L635.55,591.40 L635.80,590.96 L636.05,590.48 L636.30,589.98 L636.55,589.46 L636.80,588.94 L637.05,588.42 L637.30,587.92 L637.55,587.43 L637.80,586.97 L638.05,586.54 L638.30,586.15 L638.55,585.79 L638.80,585.48 L639.05,585.21 L639.30,584.99 L639.55,584.81 L639.80,584.67 L640.05,584.58 L640.30,584.54 L640.55,584.53 L640.80,584.57 L641.05,584.64 L641.30,584.74 L641.55,584.88 L641.80,585.05 L642.05,585.24 L642.30,585.45 L642.55,585.68 L642.80,585.93 L643.05,586.19 L643.30,586.46 L643.55,586.73 L643.80,587.01 L644.05,587.28 L644.30,587.54 L644.55,587.80 L644.80,588.05 L645.05,588.28 L645.30,588.49 L645.55,588.68 L645.80,588.85 L646.05,588.99 L646.30,589.11 L646.55,589.19 L646.80,589.25 L647.05,589.27 L647.30,589.25 L647.55,589.21 L647.80,589.12 L648.05,589.01 L648.30,588.85 L648.55,588.67 L648.80,588.45 L649.05,588.19 L649.30,587.91 L649.55,587.60 L649.80,587.27 L650.05,586.92 L650.30,586.54 L650.55,586.16 L650.80,585.77 L651.05,585.37 L651.30,584.98 L651.55,584.60 L651.80,584.24 L652.05,583.90 L652.30,583.59 L652.55,583.33 L652.80,583.11 L653.05,582.94 L653.30,582.84 L653.55,582.81 L653.80,582.86 L654.05,582.98 L654.30,583.20 L654.55,583.49 L654.80,583.88 L655.05,584.35 L655.30,584.92 L655.55,585.56 L655.80,586.28 L656.05,587.06 L656.30,587.90 L656.55,588.79 L656.80,589.70 L657.05,590.63 L657.30,591.56 L657.55,592.46 L657.80,593.33 L658.05,594.13 L658.30,594.86 L658.55,595.48 L658.80,595.99 L659.05,596.36 L659.30,596.58 L659.55,596.64 L659.80,596.53 L660.05,596.23 L660.30,595.75 L660.55,595.09 L660.80,594.24 L661.05,593.23 L661.30,592.05 L661.55,590.72 L661.80,589.27 L662.05,587.71 L662.30,586.07 L662.55,584.38 L662.80,582.67 L663.05,580.97 L663.30,579.32 L663.55,577.74 L663.80,576.27 L664.05,574.94 L664.30,573.79 L664.55,572.83 L664.80,572.09 L665.05,571.59 L665.30,571.35 L665.55,571.38 L665.80,571.68 L666.05,572.26 L666.30,573.12 L666.55,574.23 L666.80,575.59 L667.05,577.18 L667.30,578.97 L667.55,580.93 L667.80,583.03 L668.05,585.24 L668.30,587.52 L668.55,589.82 L668.80,592.11 L669.05,594.35 L669.30,596.49 L669.55,598.49 L669.80,600.32 L670.05,601.95 L670.30,603.34 L670.55,604.47 L670.80,605.31 L671.05,605.85 L671.30,606.08 L671.55,605.98 L671.80,605.57 L672.05,604.84 L672.30,603.81 L672.55,602.50 L672.80,600.91 L673.05,599.09 L673.30,597.06 L673.55,594.85 L673.80,592.50 L674.05,590.06 L674.30,587.56 L674.55,585.05 L674.80,582.57 L675.05,580.15 L675.30,577.86 L675.55,575.71 L675.80,573.75 L676.05,572.01 L676.30,570.52 L676.55,569.31 L676.80,568.40 L677.05,567.80 L677.30,567.52 L677.55,567.56 L677.80,567.94 L678.05,568.63 L678.30,569.63 L678.55,570.91 L678.80,572.46 L679.05,574.25 L679.30,576.25 L679.55,578.42 L679.80,580.73 L680.05,583.13 L680.30,585.58 L680.55,588.04 L680.80,590.48 L681.05,592.83 L681.30,595.08 L681.55,597.17 L681.80,599.07 L682.05,600.75 L682.30,602.19 L682.55,603.36 L682.80,604.24 L683.05,604.82 L683.30,605.10 L683.55,605.06 L683.80,604.73 L684.05,604.10 L684.30,603.19 L684.55,602.02 L684.80,600.63 L685.05,599.02 L685.30,597.25 L685.55,595.33 L685.80,593.32 L686.05,591.24 L686.30,589.14 L686.55,587.06 L686.80,585.03 L687.05,583.08 L687.30,581.26 L687.55,579.58 L687.80,578.09 L688.05,576.79 L688.30,575.71 L688.55,574.85 L688.80,574.24 L689.05,573.87 L689.30,573.74 L689.55,573.84 L689.80,574.16 L690.05,574.70 L690.30,575.43 L690.55,576.32 L690.80,577.37 L691.05,578.53 L691.30,579.79 L691.55,581.12 L691.80,582.48 L692.05,583.86 L692.30,585.22 L692.55,586.55 L692.80,587.81 L693.05,588.99 L693.30,590.07 L693.55,591.04 L693.80,591.88 L694.05,592.59 L694.30,593.16 L694.55,593.58 L694.80,593.87 L695.05,594.02 L695.30,594.04 L695.55,593.93 L695.80,593.71 L696.05,593.39 L696.30,592.98 L696.55,592.49 L696.80,591.95 L697.05,591.35 L697.30,590.72 L697.55,590.07 L697.80,589.42 L698.05,588.77 L698.30,588.13 L698.55,587.52 L698.80,586.95 L699.05,586.42 L699.30,585.93 L699.55,585.50 L699.80,585.12 L700.05,584.80 L700.30,584.54 L700.55,584.34 L700.80,584.19 L701.05,584.10 L701.30,584.06 L701.55,584.08 L701.80,584.14 L702.05,584.24 L702.30,584.39 L702.55,584.57 L702.80,584.77 L703.05,585.01 L703.30,585.26 L703.55,585.54 L703.80,585.82 L704.05,586.11 L704.30,586.41 L704.55,586.71 L704.80,587.00 L705.05,587.29 L705.30,587.57 L705.55,587.83 L705.80,588.07 L706.05,588.30 L706.30,588.50 L706.55,588.68 L706.80,588.84" fill="none" stroke="#db5a5e" stroke-width="2.2"/>
<circle cx="518.3" cy="218.3" r="8.5" fill="#9acbec"/>
<circle cx="389.6" cy="322.4" r="8.5" fill="#eea5a6"/>
<circle cx="407.1" cy="328.5" r="8.2" fill="#9acbec"/>
<path d="M191.5,261.4 L236,261.4" stroke="#1a1a1a" stroke-width="1.6" fill="none"/>
<path d="M243.1,261.4 L229,255.6 L233,261.4 L229,267.2 Z" fill="#1a1a1a"/>
<path d="M583.3,472.8 L583.3,500" stroke="#1a1a1a" stroke-width="1.4" fill="none"/>
<path d="M583.3,506.6 L577.4,492.7 L583.3,498 L589.1,492.7 Z" fill="#1a1a1a"/>
<path d="M585.2,631.6 L585.2,659" stroke="#1a1a1a" stroke-width="1.4" fill="none"/>
<path d="M585.2,665.2 L579.6,651.2 L585.2,655.8 L591,651.2 Z" fill="#1a1a1a"/>
<path d="M601.5,172.7 C590.7,199.2 560.8,223.3 534.8,220.1" stroke="#1a1a1a" stroke-width="1.0" fill="none"/><path d="M529.4,219.4 L536.3,217.5 L534.8,220.1 L535.6,222.9 Z" fill="#1a1a1a"/>
<path d="M601.5,172.7 C566.1,244.4 498.5,302.8 424.8,323.3" stroke="#1a1a1a" stroke-width="1.0" fill="none"/><path d="M419.6,324.7 L425.2,320.3 L424.8,323.3 L426.7,325.5 Z" fill="#1a1a1a"/>
<path d="M457,416.4 C410.1,412.6 391.7,379.1 389.7,339.6" stroke="#1a1a1a" stroke-width="1.0" fill="none"/><path d="M389.4,334.2 L392.4,340.7 L389.7,339.6 L387.0,340.9 Z" fill="#1a1a1a"/>
<text x="457.7" y="35.5" style="letter-spacing:0.611px">Electrical activity</text>
<text x="458.7" y="57.5" style="letter-spacing:0.46px">measured from neurons</text>
<text x="465.7" y="93.5" style="letter-spacing:0.454px">Theta activity</text>
<text x="466.0" y="387.4" style="letter-spacing:0.446px">Gamma activity</text>
<text x="464.6" y="542.8" style="letter-spacing:0.548px">Phase–amplitude coupling</text>
<text x="462.7" y="692.4" style="letter-spacing:0.648px">Strength of coupling relates</text>
<text x="463.5" y="714.6" style="letter-spacing:0.562px">to number of items and</text>
<text x="463.5" y="736.3" style="letter-spacing:0.506px">performance on task</text>
<text x="39.7" y="244.7" style="letter-spacing:0.523px">Working-memory</text>
<text x="75.2" y="266.5" style="letter-spacing:0.4px">task in which</text>
<text x="46.7" y="287.3" style="letter-spacing:0.32px">items have to be</text>
<text x="75.6" y="309.6" style="letter-spacing:0.6px">remembered</text>
<text x="437.8" y="222.7" style="letter-spacing:0.467px">Frontal</text>
<text x="460.0" y="243.9" style="letter-spacing:0.633px">lobe</text>
<text x="313.7" y="296.8" style="letter-spacing:0.56px">Medial</text>
<text x="294.3" y="318.6" style="letter-spacing:0.743px">temporal</text>
<text x="333.9" y="339.3" style="letter-spacing:0.667px">lobe</text>
<circle cx="668.1" cy="752.1" r="5.3" fill="none" stroke="#a8a8aa" stroke-width="1.5"/>
<text x="668.0" y="754.9" text-anchor="middle" style="font-family:'Liberation Serif',serif;font-size:12.5px;font-weight:bold;fill:#a8a8aa;stroke:none">c</text>
<text transform="translate(674.8,757.8) scale(0.84,1)" x="0" y="0" style="font-family:'Liberation Serif',serif;font-size:24px;font-weight:bold;fill:#a8a8aa;stroke:none">nature</text>
</svg></div></body></html>
